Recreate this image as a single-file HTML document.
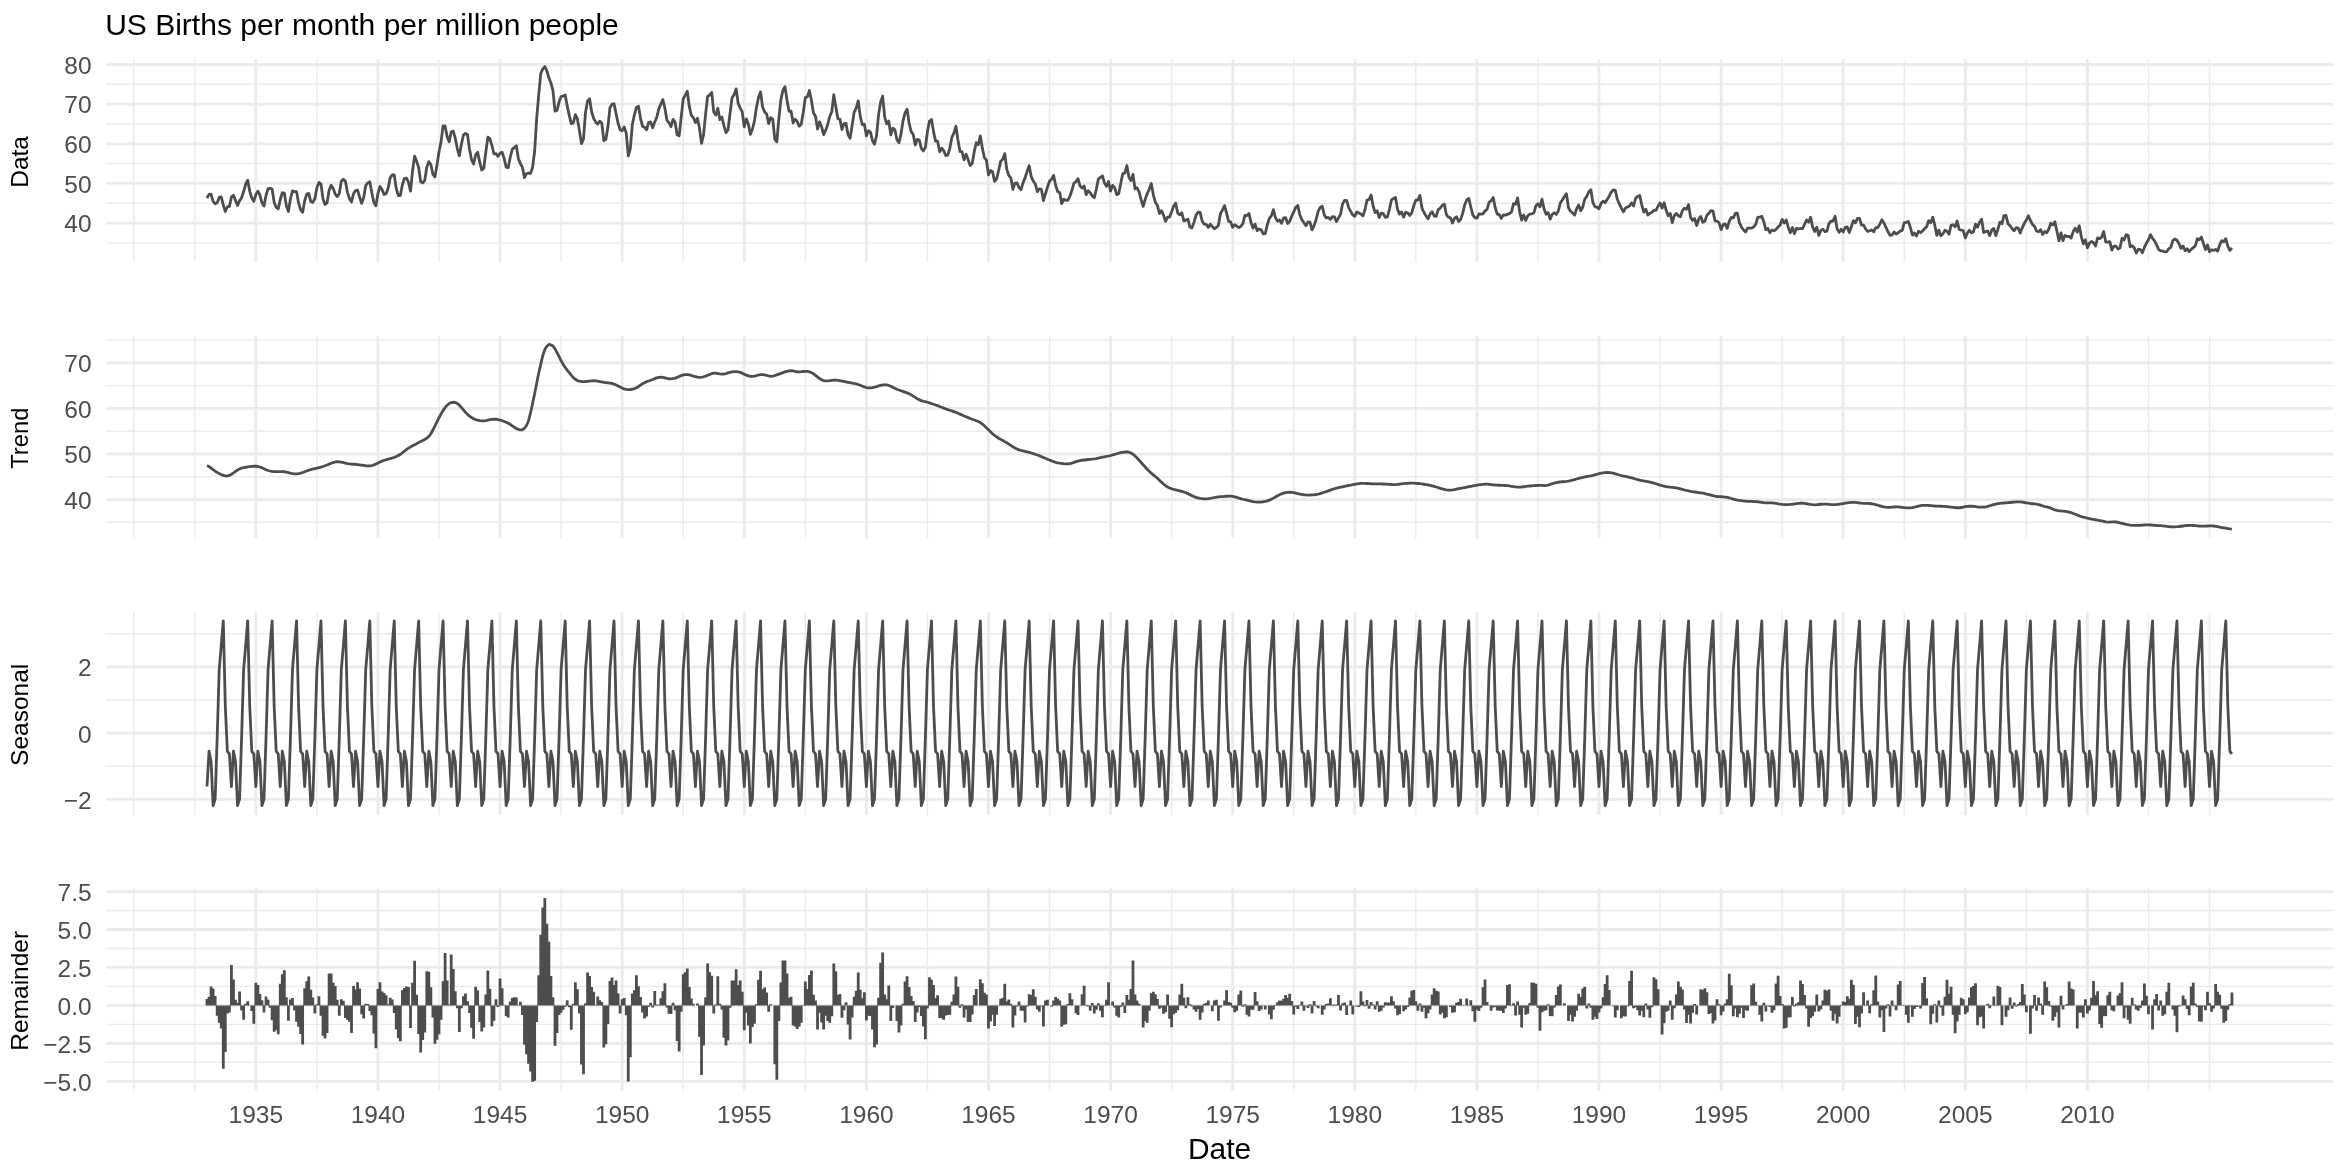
<!DOCTYPE html><html><head><meta charset="utf-8"><title>US Births per month per million people</title>
<style>html,body{margin:0;padding:0;background:#fff}svg{display:block;will-change:transform}text{font-family:"Liberation Sans",Arial,Helvetica,sans-serif}</style></head><body>
<svg width="2344" height="1170" viewBox="0 0 2344 1170">
<rect width="2344" height="1170" fill="#fff"/>
<text x="105.2" y="35.1" font-size="30" fill="#000">US Births per month per million people</text>
<g><path d="M106.2 242.90H2333.2" stroke="#EBEBEB" stroke-width="1.40"/><path d="M106.2 203.26H2333.2" stroke="#EBEBEB" stroke-width="1.40"/><path d="M106.2 163.61H2333.2" stroke="#EBEBEB" stroke-width="1.40"/><path d="M106.2 123.97H2333.2" stroke="#EBEBEB" stroke-width="1.40"/><path d="M106.2 84.32H2333.2" stroke="#EBEBEB" stroke-width="1.40"/><path d="M133.75 59.4V262.1" stroke="#EBEBEB" stroke-width="1.40"/><path d="M194.80 59.4V262.1" stroke="#EBEBEB" stroke-width="1.40"/><path d="M316.90 59.4V262.1" stroke="#EBEBEB" stroke-width="1.40"/><path d="M439.01 59.4V262.1" stroke="#EBEBEB" stroke-width="1.40"/><path d="M561.11 59.4V262.1" stroke="#EBEBEB" stroke-width="1.40"/><path d="M683.22 59.4V262.1" stroke="#EBEBEB" stroke-width="1.40"/><path d="M805.32 59.4V262.1" stroke="#EBEBEB" stroke-width="1.40"/><path d="M927.43 59.4V262.1" stroke="#EBEBEB" stroke-width="1.40"/><path d="M1049.53 59.4V262.1" stroke="#EBEBEB" stroke-width="1.40"/><path d="M1171.64 59.4V262.1" stroke="#EBEBEB" stroke-width="1.40"/><path d="M1293.74 59.4V262.1" stroke="#EBEBEB" stroke-width="1.40"/><path d="M1415.85 59.4V262.1" stroke="#EBEBEB" stroke-width="1.40"/><path d="M1537.95 59.4V262.1" stroke="#EBEBEB" stroke-width="1.40"/><path d="M1660.06 59.4V262.1" stroke="#EBEBEB" stroke-width="1.40"/><path d="M1782.16 59.4V262.1" stroke="#EBEBEB" stroke-width="1.40"/><path d="M1904.27 59.4V262.1" stroke="#EBEBEB" stroke-width="1.40"/><path d="M2026.37 59.4V262.1" stroke="#EBEBEB" stroke-width="1.40"/><path d="M2148.48 59.4V262.1" stroke="#EBEBEB" stroke-width="1.40"/><path d="M2209.53 59.4V262.1" stroke="#EBEBEB" stroke-width="1.40"/><path d="M106.2 223.08H2333.2" stroke="#EBEBEB" stroke-width="2.80"/><path d="M106.2 183.44H2333.2" stroke="#EBEBEB" stroke-width="2.80"/><path d="M106.2 143.79H2333.2" stroke="#EBEBEB" stroke-width="2.80"/><path d="M106.2 104.15H2333.2" stroke="#EBEBEB" stroke-width="2.80"/><path d="M106.2 64.50H2333.2" stroke="#EBEBEB" stroke-width="2.80"/><path d="M255.85 59.4V262.1" stroke="#EBEBEB" stroke-width="2.80"/><path d="M377.95 59.4V262.1" stroke="#EBEBEB" stroke-width="2.80"/><path d="M500.06 59.4V262.1" stroke="#EBEBEB" stroke-width="2.80"/><path d="M622.16 59.4V262.1" stroke="#EBEBEB" stroke-width="2.80"/><path d="M744.27 59.4V262.1" stroke="#EBEBEB" stroke-width="2.80"/><path d="M866.38 59.4V262.1" stroke="#EBEBEB" stroke-width="2.80"/><path d="M988.48 59.4V262.1" stroke="#EBEBEB" stroke-width="2.80"/><path d="M1110.59 59.4V262.1" stroke="#EBEBEB" stroke-width="2.80"/><path d="M1232.69 59.4V262.1" stroke="#EBEBEB" stroke-width="2.80"/><path d="M1354.79 59.4V262.1" stroke="#EBEBEB" stroke-width="2.80"/><path d="M1476.90 59.4V262.1" stroke="#EBEBEB" stroke-width="2.80"/><path d="M1599.00 59.4V262.1" stroke="#EBEBEB" stroke-width="2.80"/><path d="M1721.11 59.4V262.1" stroke="#EBEBEB" stroke-width="2.80"/><path d="M1843.21 59.4V262.1" stroke="#EBEBEB" stroke-width="2.80"/><path d="M1965.32 59.4V262.1" stroke="#EBEBEB" stroke-width="2.80"/><path d="M2087.43 59.4V262.1" stroke="#EBEBEB" stroke-width="2.80"/></g>
<text x="91.6" y="232.4" font-size="24.5" fill="#4D4D4D" text-anchor="end">40</text>
<text x="91.6" y="192.7" font-size="24.5" fill="#4D4D4D" text-anchor="end">50</text>
<text x="91.6" y="153.1" font-size="24.5" fill="#4D4D4D" text-anchor="end">60</text>
<text x="91.6" y="113.4" font-size="24.5" fill="#4D4D4D" text-anchor="end">70</text>
<text x="91.6" y="73.8" font-size="24.5" fill="#4D4D4D" text-anchor="end">80</text>
<text transform="translate(27.6 161.9) rotate(-90)" font-size="24.5" fill="#000" text-anchor="middle">Data</text>
<g><path d="M106.2 522.32H2333.2" stroke="#EBEBEB" stroke-width="1.40"/><path d="M106.2 476.77H2333.2" stroke="#EBEBEB" stroke-width="1.40"/><path d="M106.2 431.22H2333.2" stroke="#EBEBEB" stroke-width="1.40"/><path d="M106.2 385.67H2333.2" stroke="#EBEBEB" stroke-width="1.40"/><path d="M106.2 340.12H2333.2" stroke="#EBEBEB" stroke-width="1.40"/><path d="M133.75 336.1V538.0" stroke="#EBEBEB" stroke-width="1.40"/><path d="M194.80 336.1V538.0" stroke="#EBEBEB" stroke-width="1.40"/><path d="M316.90 336.1V538.0" stroke="#EBEBEB" stroke-width="1.40"/><path d="M439.01 336.1V538.0" stroke="#EBEBEB" stroke-width="1.40"/><path d="M561.11 336.1V538.0" stroke="#EBEBEB" stroke-width="1.40"/><path d="M683.22 336.1V538.0" stroke="#EBEBEB" stroke-width="1.40"/><path d="M805.32 336.1V538.0" stroke="#EBEBEB" stroke-width="1.40"/><path d="M927.43 336.1V538.0" stroke="#EBEBEB" stroke-width="1.40"/><path d="M1049.53 336.1V538.0" stroke="#EBEBEB" stroke-width="1.40"/><path d="M1171.64 336.1V538.0" stroke="#EBEBEB" stroke-width="1.40"/><path d="M1293.74 336.1V538.0" stroke="#EBEBEB" stroke-width="1.40"/><path d="M1415.85 336.1V538.0" stroke="#EBEBEB" stroke-width="1.40"/><path d="M1537.95 336.1V538.0" stroke="#EBEBEB" stroke-width="1.40"/><path d="M1660.06 336.1V538.0" stroke="#EBEBEB" stroke-width="1.40"/><path d="M1782.16 336.1V538.0" stroke="#EBEBEB" stroke-width="1.40"/><path d="M1904.27 336.1V538.0" stroke="#EBEBEB" stroke-width="1.40"/><path d="M2026.37 336.1V538.0" stroke="#EBEBEB" stroke-width="1.40"/><path d="M2148.48 336.1V538.0" stroke="#EBEBEB" stroke-width="1.40"/><path d="M2209.53 336.1V538.0" stroke="#EBEBEB" stroke-width="1.40"/><path d="M106.2 499.55H2333.2" stroke="#EBEBEB" stroke-width="2.80"/><path d="M106.2 454.00H2333.2" stroke="#EBEBEB" stroke-width="2.80"/><path d="M106.2 408.45H2333.2" stroke="#EBEBEB" stroke-width="2.80"/><path d="M106.2 362.90H2333.2" stroke="#EBEBEB" stroke-width="2.80"/><path d="M255.85 336.1V538.0" stroke="#EBEBEB" stroke-width="2.80"/><path d="M377.95 336.1V538.0" stroke="#EBEBEB" stroke-width="2.80"/><path d="M500.06 336.1V538.0" stroke="#EBEBEB" stroke-width="2.80"/><path d="M622.16 336.1V538.0" stroke="#EBEBEB" stroke-width="2.80"/><path d="M744.27 336.1V538.0" stroke="#EBEBEB" stroke-width="2.80"/><path d="M866.38 336.1V538.0" stroke="#EBEBEB" stroke-width="2.80"/><path d="M988.48 336.1V538.0" stroke="#EBEBEB" stroke-width="2.80"/><path d="M1110.59 336.1V538.0" stroke="#EBEBEB" stroke-width="2.80"/><path d="M1232.69 336.1V538.0" stroke="#EBEBEB" stroke-width="2.80"/><path d="M1354.79 336.1V538.0" stroke="#EBEBEB" stroke-width="2.80"/><path d="M1476.90 336.1V538.0" stroke="#EBEBEB" stroke-width="2.80"/><path d="M1599.00 336.1V538.0" stroke="#EBEBEB" stroke-width="2.80"/><path d="M1721.11 336.1V538.0" stroke="#EBEBEB" stroke-width="2.80"/><path d="M1843.21 336.1V538.0" stroke="#EBEBEB" stroke-width="2.80"/><path d="M1965.32 336.1V538.0" stroke="#EBEBEB" stroke-width="2.80"/><path d="M2087.43 336.1V538.0" stroke="#EBEBEB" stroke-width="2.80"/></g>
<text x="91.6" y="508.8" font-size="24.5" fill="#4D4D4D" text-anchor="end">40</text>
<text x="91.6" y="463.3" font-size="24.5" fill="#4D4D4D" text-anchor="end">50</text>
<text x="91.6" y="417.8" font-size="24.5" fill="#4D4D4D" text-anchor="end">60</text>
<text x="91.6" y="372.2" font-size="24.5" fill="#4D4D4D" text-anchor="end">70</text>
<text transform="translate(27.6 438.2) rotate(-90)" font-size="23.8" fill="#000" text-anchor="middle">Trend</text>
<g><path d="M106.2 766.31H2333.2" stroke="#EBEBEB" stroke-width="1.40"/><path d="M106.2 700.03H2333.2" stroke="#EBEBEB" stroke-width="1.40"/><path d="M106.2 633.76H2333.2" stroke="#EBEBEB" stroke-width="1.40"/><path d="M133.75 612.2V815.0" stroke="#EBEBEB" stroke-width="1.40"/><path d="M194.80 612.2V815.0" stroke="#EBEBEB" stroke-width="1.40"/><path d="M316.90 612.2V815.0" stroke="#EBEBEB" stroke-width="1.40"/><path d="M439.01 612.2V815.0" stroke="#EBEBEB" stroke-width="1.40"/><path d="M561.11 612.2V815.0" stroke="#EBEBEB" stroke-width="1.40"/><path d="M683.22 612.2V815.0" stroke="#EBEBEB" stroke-width="1.40"/><path d="M805.32 612.2V815.0" stroke="#EBEBEB" stroke-width="1.40"/><path d="M927.43 612.2V815.0" stroke="#EBEBEB" stroke-width="1.40"/><path d="M1049.53 612.2V815.0" stroke="#EBEBEB" stroke-width="1.40"/><path d="M1171.64 612.2V815.0" stroke="#EBEBEB" stroke-width="1.40"/><path d="M1293.74 612.2V815.0" stroke="#EBEBEB" stroke-width="1.40"/><path d="M1415.85 612.2V815.0" stroke="#EBEBEB" stroke-width="1.40"/><path d="M1537.95 612.2V815.0" stroke="#EBEBEB" stroke-width="1.40"/><path d="M1660.06 612.2V815.0" stroke="#EBEBEB" stroke-width="1.40"/><path d="M1782.16 612.2V815.0" stroke="#EBEBEB" stroke-width="1.40"/><path d="M1904.27 612.2V815.0" stroke="#EBEBEB" stroke-width="1.40"/><path d="M2026.37 612.2V815.0" stroke="#EBEBEB" stroke-width="1.40"/><path d="M2148.48 612.2V815.0" stroke="#EBEBEB" stroke-width="1.40"/><path d="M2209.53 612.2V815.0" stroke="#EBEBEB" stroke-width="1.40"/><path d="M106.2 799.44H2333.2" stroke="#EBEBEB" stroke-width="2.80"/><path d="M106.2 733.17H2333.2" stroke="#EBEBEB" stroke-width="2.80"/><path d="M106.2 666.90H2333.2" stroke="#EBEBEB" stroke-width="2.80"/><path d="M255.85 612.2V815.0" stroke="#EBEBEB" stroke-width="2.80"/><path d="M377.95 612.2V815.0" stroke="#EBEBEB" stroke-width="2.80"/><path d="M500.06 612.2V815.0" stroke="#EBEBEB" stroke-width="2.80"/><path d="M622.16 612.2V815.0" stroke="#EBEBEB" stroke-width="2.80"/><path d="M744.27 612.2V815.0" stroke="#EBEBEB" stroke-width="2.80"/><path d="M866.38 612.2V815.0" stroke="#EBEBEB" stroke-width="2.80"/><path d="M988.48 612.2V815.0" stroke="#EBEBEB" stroke-width="2.80"/><path d="M1110.59 612.2V815.0" stroke="#EBEBEB" stroke-width="2.80"/><path d="M1232.69 612.2V815.0" stroke="#EBEBEB" stroke-width="2.80"/><path d="M1354.79 612.2V815.0" stroke="#EBEBEB" stroke-width="2.80"/><path d="M1476.90 612.2V815.0" stroke="#EBEBEB" stroke-width="2.80"/><path d="M1599.00 612.2V815.0" stroke="#EBEBEB" stroke-width="2.80"/><path d="M1721.11 612.2V815.0" stroke="#EBEBEB" stroke-width="2.80"/><path d="M1843.21 612.2V815.0" stroke="#EBEBEB" stroke-width="2.80"/><path d="M1965.32 612.2V815.0" stroke="#EBEBEB" stroke-width="2.80"/><path d="M2087.43 612.2V815.0" stroke="#EBEBEB" stroke-width="2.80"/></g>
<text x="91.6" y="808.7" font-size="24.5" fill="#4D4D4D" text-anchor="end">−2</text>
<text x="91.6" y="742.5" font-size="24.5" fill="#4D4D4D" text-anchor="end">0</text>
<text x="91.6" y="676.2" font-size="24.5" fill="#4D4D4D" text-anchor="end">2</text>
<text transform="translate(27.6 714.8) rotate(-90)" font-size="24.5" fill="#000" text-anchor="middle">Seasonal</text>
<g><path d="M106.2 1062.32H2333.2" stroke="#EBEBEB" stroke-width="1.40"/><path d="M106.2 1024.37H2333.2" stroke="#EBEBEB" stroke-width="1.40"/><path d="M106.2 986.41H2333.2" stroke="#EBEBEB" stroke-width="1.40"/><path d="M106.2 948.47H2333.2" stroke="#EBEBEB" stroke-width="1.40"/><path d="M106.2 910.51H2333.2" stroke="#EBEBEB" stroke-width="1.40"/><path d="M133.75 888.4V1090.8" stroke="#EBEBEB" stroke-width="1.40"/><path d="M194.80 888.4V1090.8" stroke="#EBEBEB" stroke-width="1.40"/><path d="M316.90 888.4V1090.8" stroke="#EBEBEB" stroke-width="1.40"/><path d="M439.01 888.4V1090.8" stroke="#EBEBEB" stroke-width="1.40"/><path d="M561.11 888.4V1090.8" stroke="#EBEBEB" stroke-width="1.40"/><path d="M683.22 888.4V1090.8" stroke="#EBEBEB" stroke-width="1.40"/><path d="M805.32 888.4V1090.8" stroke="#EBEBEB" stroke-width="1.40"/><path d="M927.43 888.4V1090.8" stroke="#EBEBEB" stroke-width="1.40"/><path d="M1049.53 888.4V1090.8" stroke="#EBEBEB" stroke-width="1.40"/><path d="M1171.64 888.4V1090.8" stroke="#EBEBEB" stroke-width="1.40"/><path d="M1293.74 888.4V1090.8" stroke="#EBEBEB" stroke-width="1.40"/><path d="M1415.85 888.4V1090.8" stroke="#EBEBEB" stroke-width="1.40"/><path d="M1537.95 888.4V1090.8" stroke="#EBEBEB" stroke-width="1.40"/><path d="M1660.06 888.4V1090.8" stroke="#EBEBEB" stroke-width="1.40"/><path d="M1782.16 888.4V1090.8" stroke="#EBEBEB" stroke-width="1.40"/><path d="M1904.27 888.4V1090.8" stroke="#EBEBEB" stroke-width="1.40"/><path d="M2026.37 888.4V1090.8" stroke="#EBEBEB" stroke-width="1.40"/><path d="M2148.48 888.4V1090.8" stroke="#EBEBEB" stroke-width="1.40"/><path d="M2209.53 888.4V1090.8" stroke="#EBEBEB" stroke-width="1.40"/><path d="M106.2 1081.29H2333.2" stroke="#EBEBEB" stroke-width="2.80"/><path d="M106.2 1043.34H2333.2" stroke="#EBEBEB" stroke-width="2.80"/><path d="M106.2 1005.39H2333.2" stroke="#EBEBEB" stroke-width="2.80"/><path d="M106.2 967.44H2333.2" stroke="#EBEBEB" stroke-width="2.80"/><path d="M106.2 929.49H2333.2" stroke="#EBEBEB" stroke-width="2.80"/><path d="M106.2 891.54H2333.2" stroke="#EBEBEB" stroke-width="2.80"/><path d="M255.85 888.4V1090.8" stroke="#EBEBEB" stroke-width="2.80"/><path d="M377.95 888.4V1090.8" stroke="#EBEBEB" stroke-width="2.80"/><path d="M500.06 888.4V1090.8" stroke="#EBEBEB" stroke-width="2.80"/><path d="M622.16 888.4V1090.8" stroke="#EBEBEB" stroke-width="2.80"/><path d="M744.27 888.4V1090.8" stroke="#EBEBEB" stroke-width="2.80"/><path d="M866.38 888.4V1090.8" stroke="#EBEBEB" stroke-width="2.80"/><path d="M988.48 888.4V1090.8" stroke="#EBEBEB" stroke-width="2.80"/><path d="M1110.59 888.4V1090.8" stroke="#EBEBEB" stroke-width="2.80"/><path d="M1232.69 888.4V1090.8" stroke="#EBEBEB" stroke-width="2.80"/><path d="M1354.79 888.4V1090.8" stroke="#EBEBEB" stroke-width="2.80"/><path d="M1476.90 888.4V1090.8" stroke="#EBEBEB" stroke-width="2.80"/><path d="M1599.00 888.4V1090.8" stroke="#EBEBEB" stroke-width="2.80"/><path d="M1721.11 888.4V1090.8" stroke="#EBEBEB" stroke-width="2.80"/><path d="M1843.21 888.4V1090.8" stroke="#EBEBEB" stroke-width="2.80"/><path d="M1965.32 888.4V1090.8" stroke="#EBEBEB" stroke-width="2.80"/><path d="M2087.43 888.4V1090.8" stroke="#EBEBEB" stroke-width="2.80"/></g>
<text x="91.6" y="1090.6" font-size="24.5" fill="#4D4D4D" text-anchor="end">−5.0</text>
<text x="91.6" y="1052.6" font-size="24.5" fill="#4D4D4D" text-anchor="end">−2.5</text>
<text x="91.6" y="1014.7" font-size="24.5" fill="#4D4D4D" text-anchor="end">0.0</text>
<text x="91.6" y="976.7" font-size="24.5" fill="#4D4D4D" text-anchor="end">2.5</text>
<text x="91.6" y="938.8" font-size="24.5" fill="#4D4D4D" text-anchor="end">5.0</text>
<text x="91.6" y="900.8" font-size="24.5" fill="#4D4D4D" text-anchor="end">7.5</text>
<text transform="translate(27.6 990.8) rotate(-90)" font-size="24.5" fill="#000" text-anchor="middle">Remainder</text>
<text x="255.8" y="1123.4" font-size="24.5" fill="#4D4D4D" text-anchor="middle">1935</text>
<text x="378.0" y="1123.4" font-size="24.5" fill="#4D4D4D" text-anchor="middle">1940</text>
<text x="500.1" y="1123.4" font-size="24.5" fill="#4D4D4D" text-anchor="middle">1945</text>
<text x="622.2" y="1123.4" font-size="24.5" fill="#4D4D4D" text-anchor="middle">1950</text>
<text x="744.3" y="1123.4" font-size="24.5" fill="#4D4D4D" text-anchor="middle">1955</text>
<text x="866.4" y="1123.4" font-size="24.5" fill="#4D4D4D" text-anchor="middle">1960</text>
<text x="988.5" y="1123.4" font-size="24.5" fill="#4D4D4D" text-anchor="middle">1965</text>
<text x="1110.6" y="1123.4" font-size="24.5" fill="#4D4D4D" text-anchor="middle">1970</text>
<text x="1232.7" y="1123.4" font-size="24.5" fill="#4D4D4D" text-anchor="middle">1975</text>
<text x="1354.8" y="1123.4" font-size="24.5" fill="#4D4D4D" text-anchor="middle">1980</text>
<text x="1476.9" y="1123.4" font-size="24.5" fill="#4D4D4D" text-anchor="middle">1985</text>
<text x="1599.0" y="1123.4" font-size="24.5" fill="#4D4D4D" text-anchor="middle">1990</text>
<text x="1721.1" y="1123.4" font-size="24.5" fill="#4D4D4D" text-anchor="middle">1995</text>
<text x="1843.2" y="1123.4" font-size="24.5" fill="#4D4D4D" text-anchor="middle">2000</text>
<text x="1965.3" y="1123.4" font-size="24.5" fill="#4D4D4D" text-anchor="middle">2005</text>
<text x="2087.4" y="1123.4" font-size="24.5" fill="#4D4D4D" text-anchor="middle">2010</text>
<text x="1219.5" y="1159" font-size="29.9" fill="#000" text-anchor="middle">Date</text>
<path d="M207.01 198.07L209.04 194.31L211.08 194.26L213.11 201.38L215.15 203.78L217.18 202.71L219.22 197.45L221.25 196.88L223.29 205.17L225.32 211.51L227.36 206.89L229.39 206.43L231.43 196.95L233.46 195.29L235.50 200.50L237.53 205.37L239.57 200.70L241.60 197.66L243.64 191.51L245.67 184.15L247.71 180.24L249.74 191.35L251.78 197.88L253.81 201.34L255.85 194.55L257.89 191.10L259.92 195.23L261.96 202.83L263.99 206.09L266.03 195.31L268.06 188.71L270.10 188.34L272.13 188.98L274.17 202.41L276.20 207.38L278.24 208.83L280.27 199.51L282.31 192.78L284.34 193.15L286.38 205.70L288.41 211.47L290.45 199.03L292.48 190.90L294.52 191.55L296.55 191.64L298.59 202.95L300.62 209.75L302.66 212.26L304.69 200.82L306.73 194.09L308.76 193.45L310.80 201.61L312.83 202.31L314.87 198.79L316.90 187.82L318.94 182.44L320.97 184.14L323.01 199.05L325.04 204.48L327.08 202.68L329.11 190.31L331.15 185.35L333.18 188.39L335.22 194.03L337.25 196.57L339.29 193.45L341.32 181.32L343.36 179.25L345.39 181.22L347.43 192.32L349.46 198.49L351.50 201.93L353.53 193.73L355.57 190.52L357.60 190.07L359.64 197.15L361.67 203.31L363.71 197.37L365.74 185.59L367.78 182.95L369.81 181.83L371.85 192.83L373.88 202.46L375.92 205.83L377.95 193.40L379.99 186.50L382.03 189.43L384.06 194.44L386.10 193.67L388.13 188.24L390.17 177.86L392.20 174.90L394.24 174.92L396.27 188.76L398.31 195.52L400.34 195.52L402.38 184.79L404.41 178.53L406.45 178.00L408.48 182.20L410.52 191.07L412.55 170.96L414.59 156.13L416.62 161.19L418.66 167.57L420.69 181.69L422.73 182.89L424.76 180.31L426.80 167.17L428.83 161.59L430.87 164.44L432.90 174.42L434.94 176.91L436.97 164.91L439.01 151.77L441.04 141.87L443.08 125.94L445.11 126.22L447.15 136.63L449.18 141.71L451.22 131.75L453.25 131.05L455.29 138.29L457.32 148.84L459.36 155.76L461.39 144.22L463.43 135.02L465.46 133.46L467.50 134.44L469.53 149.27L471.57 159.77L473.60 163.92L475.64 154.96L477.67 152.26L479.71 162.17L481.74 170.07L483.78 168.23L485.81 152.01L487.85 137.25L489.88 138.72L491.92 145.31L493.95 153.92L495.99 153.74L498.02 156.32L500.06 153.21L502.10 152.14L504.13 158.44L506.17 167.24L508.20 167.67L510.24 157.23L512.27 149.34L514.31 147.51L516.34 145.71L518.38 158.73L520.41 163.64L522.45 167.30L524.48 177.69L526.52 173.53L528.55 173.09L530.59 173.41L532.62 167.21L534.66 151.02L536.69 118.65L538.73 94.50L540.76 73.56L542.80 68.90L544.83 66.58L546.87 70.79L548.90 77.79L550.94 82.94L552.97 90.64L555.01 111.22L557.04 110.32L559.08 101.82L561.11 96.61L563.15 96.06L565.18 95.01L567.22 105.89L569.25 115.39L571.29 123.70L573.32 122.93L575.36 114.56L577.39 118.72L579.43 130.87L581.46 143.63L583.50 138.91L585.53 112.13L587.57 101.04L589.60 98.84L591.64 111.74L593.67 118.33L595.71 122.16L597.74 124.04L599.78 121.16L601.81 123.26L603.85 140.69L605.88 139.25L607.92 126.84L609.95 107.73L611.99 104.23L614.02 103.78L616.06 113.62L618.09 123.25L620.13 129.73L622.16 130.83L624.20 126.97L626.24 133.14L628.27 155.87L630.31 148.73L632.34 124.55L634.38 115.06L636.41 107.43L638.45 106.26L640.48 118.09L642.52 126.35L644.55 127.23L646.59 129.80L648.62 122.37L650.66 122.00L652.69 127.81L654.73 121.95L656.76 117.41L658.80 108.90L660.83 104.17L662.87 99.64L664.90 108.20L666.94 120.35L668.97 122.61L671.01 126.70L673.04 119.33L675.08 122.06L677.11 134.68L679.15 135.89L681.18 117.40L683.22 98.89L685.25 95.13L687.29 91.24L689.32 106.59L691.36 115.46L693.39 117.67L695.43 122.58L697.46 118.19L699.50 128.32L701.53 143.43L703.57 134.59L705.60 114.08L707.64 96.39L709.67 95.03L711.71 92.37L713.74 112.04L715.78 115.03L717.81 108.25L719.85 119.65L721.88 117.09L723.92 125.70L725.95 132.59L727.99 129.98L730.02 113.52L732.06 97.81L734.09 94.68L736.13 88.83L738.16 103.39L740.20 108.08L742.23 111.97L744.27 126.85L746.31 118.86L748.34 124.12L750.38 134.39L752.41 129.35L754.45 120.89L756.48 107.25L758.52 97.51L760.55 91.83L762.59 106.91L764.62 112.11L766.66 114.12L768.69 123.60L770.73 117.65L772.76 119.08L774.80 139.20L776.83 141.84L778.87 118.45L780.90 99.61L782.94 90.32L784.97 86.80L787.01 99.94L789.04 111.25L791.08 111.16L793.11 122.80L795.15 119.22L797.18 121.41L799.22 126.11L801.25 124.20L803.29 112.31L805.32 97.64L807.36 96.84L809.39 90.55L811.43 100.30L813.46 113.04L815.50 116.17L817.53 129.09L819.57 121.82L821.60 126.72L823.64 134.55L825.67 130.47L827.71 124.43L829.74 116.51L831.78 111.69L833.81 94.78L835.85 107.01L837.88 118.76L839.92 119.11L841.95 129.58L843.99 123.70L846.02 123.25L848.06 134.69L850.09 138.19L852.13 125.46L854.16 112.21L856.20 108.10L858.23 100.94L860.27 116.39L862.30 124.71L864.34 124.08L866.38 135.87L868.41 130.75L870.45 132.14L872.48 140.74L874.52 144.16L876.55 135.52L878.59 114.62L880.62 102.05L882.66 96.10L884.69 117.18L886.73 123.94L888.76 121.04L890.80 134.90L892.83 128.20L894.87 129.68L896.90 139.81L898.94 142.67L900.97 134.14L903.01 120.88L905.04 112.84L907.08 109.20L909.11 123.04L911.15 131.67L913.18 134.34L915.22 144.96L917.25 139.33L919.29 140.15L921.32 148.45L923.36 150.92L925.39 147.34L927.43 131.64L929.46 121.13L931.50 119.47L933.53 131.64L935.57 141.08L937.60 141.19L939.64 151.73L941.67 148.29L943.71 150.64L945.74 155.52L947.78 155.19L949.81 148.35L951.85 137.38L953.88 133.22L955.92 126.29L957.95 139.92L959.99 151.55L962.02 151.72L964.06 159.89L966.09 154.28L968.13 159.60L970.16 165.51L972.20 163.49L974.23 151.68L976.27 142.64L978.30 144.72L980.34 135.87L982.37 148.35L984.41 157.74L986.44 160.24L988.48 174.84L990.52 170.50L992.55 171.67L994.59 181.35L996.62 178.91L998.66 170.34L1000.69 161.42L1002.73 159.23L1004.76 153.60L1006.80 169.41L1008.83 175.44L1010.87 178.00L1012.90 189.35L1014.94 183.07L1016.97 182.90L1019.01 187.58L1021.04 189.68L1023.08 182.63L1025.11 177.93L1027.15 171.33L1029.18 165.68L1031.22 176.62L1033.25 181.05L1035.29 183.89L1037.32 191.73L1039.36 188.82L1041.39 189.35L1043.43 200.63L1045.46 193.77L1047.50 187.05L1049.53 181.13L1051.57 179.23L1053.60 175.36L1055.64 185.31L1057.67 191.48L1059.71 192.59L1061.74 203.68L1063.78 199.13L1065.81 200.33L1067.85 200.27L1069.88 196.43L1071.92 190.27L1073.95 183.17L1075.99 181.67L1078.02 178.64L1080.06 186.06L1082.09 188.13L1084.13 185.98L1086.16 194.71L1088.20 190.68L1090.23 192.82L1092.27 195.91L1094.30 197.70L1096.34 189.12L1098.37 178.90L1100.41 177.51L1102.44 175.91L1104.48 182.84L1106.51 186.27L1108.55 181.57L1110.59 191.12L1112.62 185.37L1114.66 187.71L1116.69 194.59L1118.73 193.80L1120.76 183.25L1122.80 173.55L1124.83 173.15L1126.87 165.53L1128.90 177.28L1130.94 180.47L1132.97 174.40L1135.01 188.77L1137.04 187.82L1139.08 191.84L1141.11 199.54L1143.15 206.48L1145.18 199.38L1147.22 193.53L1149.25 189.33L1151.29 183.52L1153.32 194.86L1155.36 202.33L1157.39 205.41L1159.43 213.53L1161.46 210.66L1163.50 215.13L1165.53 221.42L1167.57 217.18L1169.60 216.99L1171.64 211.78L1173.67 205.99L1175.71 203.12L1177.74 213.12L1179.78 214.83L1181.81 212.79L1183.85 220.93L1185.88 220.12L1187.92 219.26L1189.95 227.18L1191.99 227.85L1194.02 222.12L1196.06 215.23L1198.09 212.12L1200.13 212.37L1202.16 220.96L1204.20 224.18L1206.23 224.30L1208.27 227.40L1210.30 224.25L1212.34 226.64L1214.37 228.76L1216.41 227.43L1218.44 225.25L1220.48 213.51L1222.51 209.91L1224.55 205.62L1226.58 213.11L1228.62 221.39L1230.65 221.92L1232.69 227.35L1234.73 224.67L1236.76 226.05L1238.80 227.65L1240.83 226.33L1242.87 223.73L1244.90 215.33L1246.94 215.55L1248.97 213.52L1251.01 222.43L1253.04 228.18L1255.08 224.12L1257.11 230.62L1259.15 228.96L1261.18 229.76L1263.22 233.76L1265.25 233.59L1267.29 224.77L1269.32 218.38L1271.36 215.94L1273.39 209.57L1275.43 217.54L1277.46 221.17L1279.50 220.06L1281.53 223.25L1283.57 217.89L1285.60 217.69L1287.64 223.47L1289.67 221.55L1291.71 216.18L1293.74 211.85L1295.78 207.32L1297.81 205.41L1299.85 215.00L1301.88 219.77L1303.92 222.75L1305.95 225.70L1307.99 222.00L1310.02 222.24L1312.06 229.87L1314.09 225.65L1316.13 219.46L1318.16 211.49L1320.20 207.38L1322.23 206.33L1324.27 214.66L1326.30 217.92L1328.34 217.46L1330.37 219.40L1332.41 216.56L1334.44 216.86L1336.48 221.61L1338.51 217.88L1340.55 214.17L1342.58 203.83L1344.62 200.32L1346.65 200.34L1348.69 207.68L1350.72 211.40L1352.76 214.95L1354.79 216.29L1356.83 211.95L1358.87 213.08L1360.90 214.05L1362.94 215.87L1364.97 209.80L1367.01 200.12L1369.04 199.62L1371.08 194.98L1373.11 205.95L1375.15 212.69L1377.18 210.82L1379.22 217.48L1381.25 213.07L1383.29 213.52L1385.32 217.48L1387.36 216.92L1389.39 209.64L1391.43 200.00L1393.46 198.45L1395.50 197.42L1397.53 209.28L1399.57 214.10L1401.60 212.05L1403.64 217.16L1405.67 212.29L1407.71 212.79L1409.74 215.47L1411.78 212.85L1413.81 205.41L1415.85 200.26L1417.88 200.05L1419.92 195.38L1421.95 207.98L1423.99 212.55L1426.02 215.87L1428.06 218.76L1430.09 213.92L1432.13 211.73L1434.16 215.85L1436.20 216.26L1438.23 209.62L1440.27 208.06L1442.30 205.22L1444.34 204.22L1446.37 214.55L1448.41 217.06L1450.44 217.80L1452.48 223.04L1454.51 218.36L1456.55 216.75L1458.58 221.48L1460.62 219.42L1462.65 213.38L1464.69 204.94L1466.72 199.96L1468.76 198.42L1470.79 206.99L1472.83 214.87L1474.86 217.60L1476.90 218.11L1478.94 213.89L1480.97 214.08L1483.01 213.80L1485.04 210.88L1487.08 209.35L1489.11 202.16L1491.15 200.88L1493.18 197.37L1495.22 207.68L1497.25 214.05L1499.29 214.53L1501.32 218.43L1503.36 214.84L1505.39 215.09L1507.43 214.36L1509.46 213.59L1511.50 211.96L1513.53 203.65L1515.57 204.25L1517.60 197.87L1519.64 211.56L1521.67 220.13L1523.71 215.03L1525.74 220.52L1527.78 215.80L1529.81 214.05L1531.85 213.79L1533.88 212.95L1535.92 205.75L1537.95 203.79L1539.99 206.86L1542.02 199.17L1544.06 209.09L1546.09 214.26L1548.13 212.68L1550.16 219.08L1552.20 214.31L1554.23 212.77L1556.27 214.30L1558.30 210.99L1560.34 202.86L1562.37 200.02L1564.41 196.36L1566.44 193.82L1568.48 207.82L1570.51 211.25L1572.55 212.87L1574.58 215.10L1576.62 208.74L1578.65 205.07L1580.69 210.72L1582.72 207.26L1584.76 199.05L1586.79 196.30L1588.83 191.79L1590.86 189.68L1592.90 202.63L1594.93 206.75L1596.97 207.12L1599.00 208.83L1601.04 203.17L1603.08 201.16L1605.11 202.70L1607.15 199.52L1609.18 196.10L1611.22 192.20L1613.25 189.91L1615.29 190.42L1617.32 199.25L1619.36 203.94L1621.39 208.04L1623.43 211.82L1625.46 208.04L1627.50 207.01L1629.53 206.09L1631.57 203.01L1633.60 206.00L1635.64 198.10L1637.67 196.45L1639.71 195.41L1641.74 204.76L1643.78 212.17L1645.81 209.14L1647.85 214.96L1649.88 213.25L1651.92 212.21L1653.95 210.12L1655.99 210.43L1658.02 206.26L1660.06 202.86L1662.09 208.14L1664.13 202.71L1666.16 210.31L1668.20 215.66L1670.23 213.45L1672.27 222.60L1674.30 215.54L1676.34 213.46L1678.37 215.69L1680.41 216.79L1682.44 210.66L1684.48 208.18L1686.51 209.29L1688.55 204.63L1690.58 217.50L1692.62 220.34L1694.65 218.60L1696.69 225.50L1698.72 219.14L1700.76 216.43L1702.79 222.20L1704.83 221.29L1706.86 215.37L1708.90 213.37L1710.93 210.71L1712.97 211.03L1715.00 220.89L1717.04 221.06L1719.07 222.79L1721.11 229.62L1723.15 224.46L1725.18 223.81L1727.22 228.32L1729.25 221.27L1731.29 217.41L1733.32 217.87L1735.36 213.44L1737.39 213.21L1739.43 222.85L1741.46 226.91L1743.50 230.08L1745.53 232.09L1747.57 228.11L1749.60 228.18L1751.64 228.17L1753.67 226.94L1755.71 224.40L1757.74 217.45L1759.78 217.19L1761.81 216.31L1763.85 221.92L1765.88 229.74L1767.92 228.54L1769.95 232.75L1771.99 230.00L1774.02 230.76L1776.06 229.36L1778.09 226.93L1780.13 225.17L1782.16 219.34L1784.20 223.01L1786.23 219.93L1788.27 227.46L1790.30 232.63L1792.34 227.45L1794.37 233.62L1796.41 228.35L1798.44 229.00L1800.48 228.48L1802.51 228.60L1804.55 224.28L1806.58 219.96L1808.62 222.15L1810.65 217.21L1812.69 227.22L1814.72 231.51L1816.76 227.20L1818.79 235.35L1820.83 230.44L1822.86 229.16L1824.90 231.65L1826.93 231.18L1828.97 223.71L1831.00 221.20L1833.04 221.01L1835.07 216.23L1837.11 228.90L1839.14 232.31L1841.18 229.25L1843.21 231.90L1845.25 227.47L1847.29 226.96L1849.32 232.65L1851.36 226.75L1853.39 220.63L1855.43 222.86L1857.46 218.31L1859.50 218.39L1861.53 225.20L1863.57 225.08L1865.60 228.95L1867.64 231.50L1869.67 230.71L1871.71 229.88L1873.74 231.85L1875.78 227.61L1877.81 227.57L1879.85 224.11L1881.88 219.75L1883.92 222.96L1885.95 227.42L1887.99 231.81L1890.02 235.28L1892.06 234.87L1894.09 231.97L1896.13 234.12L1898.16 232.73L1900.20 231.18L1902.23 230.41L1904.27 222.71L1906.30 222.27L1908.34 221.46L1910.37 227.39L1912.41 235.17L1914.44 233.10L1916.48 236.05L1918.51 231.26L1920.55 232.70L1922.58 231.02L1924.62 228.60L1926.65 226.80L1928.69 220.63L1930.72 222.77L1932.76 217.30L1934.79 225.20L1936.83 235.42L1938.86 230.08L1940.90 235.87L1942.93 233.84L1944.97 230.26L1947.00 231.19L1949.04 234.25L1951.07 225.29L1953.11 224.69L1955.14 226.85L1957.18 220.99L1959.21 229.48L1961.25 230.21L1963.28 230.57L1965.32 238.00L1967.36 232.95L1969.39 230.25L1971.43 232.84L1973.46 231.91L1975.50 224.08L1977.53 227.10L1979.57 222.30L1981.60 219.21L1983.64 232.49L1985.67 231.62L1987.71 230.99L1989.74 235.65L1991.78 229.99L1993.81 228.50L1995.85 235.55L1997.88 229.39L1999.92 222.13L2001.95 223.76L2003.99 215.65L2006.02 215.48L2008.06 223.86L2010.09 225.76L2012.13 228.79L2014.16 230.85L2016.20 227.55L2018.23 228.11L2020.27 232.94L2022.30 227.67L2024.34 223.35L2026.37 220.11L2028.41 215.77L2030.44 220.48L2032.48 224.38L2034.51 226.36L2036.55 230.96L2038.58 231.77L2040.62 229.61L2042.65 234.46L2044.69 231.57L2046.72 232.67L2048.76 229.27L2050.79 223.24L2052.83 224.87L2054.86 221.64L2056.90 231.16L2058.93 240.82L2060.97 232.97L2063.00 240.61L2065.04 235.34L2067.07 236.63L2069.11 236.42L2071.14 238.03L2073.18 231.57L2075.21 228.27L2077.25 232.14L2079.28 225.77L2081.32 236.63L2083.35 243.80L2085.39 239.79L2087.43 247.81L2089.46 243.16L2091.50 241.50L2093.53 242.70L2095.57 245.99L2097.60 237.87L2099.64 238.60L2101.67 237.08L2103.71 231.53L2105.74 242.05L2107.78 242.21L2109.81 241.61L2111.85 250.16L2113.88 246.13L2115.92 246.11L2117.95 249.02L2119.99 248.06L2122.02 238.25L2124.06 239.99L2126.09 234.70L2128.13 235.28L2130.16 246.88L2132.20 245.67L2134.23 247.77L2136.27 253.05L2138.30 249.15L2140.34 249.51L2142.37 252.77L2144.41 247.39L2146.44 243.17L2148.48 239.83L2150.51 234.75L2152.55 238.27L2154.58 240.78L2156.62 244.87L2158.65 249.54L2160.69 250.93L2162.72 250.88L2164.76 251.96L2166.79 251.56L2168.83 248.62L2170.86 247.34L2172.90 240.31L2174.93 239.00L2176.97 240.27L2179.00 243.66L2181.04 248.40L2183.07 245.99L2185.11 250.67L2187.14 248.80L2189.18 251.58L2191.21 249.34L2193.25 247.65L2195.28 245.84L2197.32 238.79L2199.35 239.79L2201.39 237.03L2203.42 243.34L2205.46 249.60L2207.49 244.99L2209.53 251.84L2211.57 249.77L2213.60 250.35L2215.64 249.47L2217.67 251.05L2219.71 244.85L2221.74 240.70L2223.78 241.75L2225.81 238.63L2227.85 246.26L2229.88 250.39L2231.92 247.90" fill="none" stroke="#4D4D4D" stroke-width="2.80" stroke-linejoin="round" stroke-linecap="butt"/>
<path d="M207.01 465.38L209.04 466.63L211.08 468.20L213.11 469.72L215.15 471.15L217.18 472.45L219.22 473.61L221.25 474.58L223.29 475.38L225.32 475.91L227.36 475.98L229.39 475.43L231.43 474.34L233.46 472.89L235.50 471.36L237.53 470.00L239.57 468.92L241.60 468.19L243.64 467.72L245.67 467.34L247.71 466.98L249.74 466.66L251.78 466.40L253.81 466.25L255.85 466.26L257.89 466.49L259.92 467.01L261.96 467.84L263.99 468.81L266.03 469.73L268.06 470.49L270.10 471.01L272.13 471.33L274.17 471.52L276.20 471.62L278.24 471.66L280.27 471.65L282.31 471.65L284.34 471.76L286.38 472.06L288.41 472.53L290.45 473.06L292.48 473.53L294.52 473.85L296.55 473.92L298.59 473.67L300.62 473.18L302.66 472.52L304.69 471.77L306.73 471.00L308.76 470.25L310.80 469.58L312.83 469.02L314.87 468.56L316.90 468.14L318.94 467.68L320.97 467.15L323.01 466.51L325.04 465.77L327.08 464.96L329.11 464.10L331.15 463.26L333.18 462.53L335.22 461.98L337.25 461.72L339.29 461.81L341.32 462.16L343.36 462.63L345.39 463.13L347.43 463.56L349.46 463.87L351.50 464.10L353.53 464.27L355.57 464.43L357.60 464.61L359.64 464.85L361.67 465.15L363.71 465.46L365.74 465.75L367.78 465.93L369.81 465.88L371.85 465.52L373.88 464.89L375.92 464.02L377.95 463.03L379.99 462.03L382.03 461.11L384.06 460.36L386.10 459.77L388.13 459.22L390.17 458.64L392.20 458.01L394.24 457.33L396.27 456.54L398.31 455.54L400.34 454.27L402.38 452.77L404.41 451.11L406.45 449.52L408.48 448.14L410.52 446.93L412.55 445.82L414.59 444.75L416.62 443.67L418.66 442.57L420.69 441.50L422.73 440.47L424.76 439.41L426.80 438.19L428.83 436.49L430.87 433.72L432.90 430.01L434.94 425.94L436.97 421.78L439.01 417.73L441.04 413.98L443.08 410.59L445.11 407.61L447.15 405.20L449.18 403.50L451.22 402.57L453.25 402.26L455.29 402.41L457.32 403.39L459.36 405.18L461.39 407.45L463.43 409.88L465.46 412.24L467.50 414.36L469.53 416.14L471.57 417.58L473.60 418.71L475.64 419.58L477.67 420.22L479.71 420.66L481.74 420.86L483.78 420.83L485.81 420.57L487.85 420.15L489.88 419.70L491.92 419.35L493.95 419.18L495.99 419.23L498.02 419.52L500.06 420.03L502.10 420.70L504.13 421.45L506.17 422.23L508.20 423.18L510.24 424.41L512.27 425.82L514.31 427.24L516.34 428.48L518.38 429.36L520.41 429.83L522.45 429.74L524.48 428.25L526.52 425.51L528.55 420.68L530.59 412.70L532.62 403.42L534.66 393.56L536.69 383.34L538.73 372.96L540.76 364.42L542.80 355.44L544.83 349.46L546.87 346.26L548.90 344.42L550.94 344.89L552.97 345.91L555.01 348.95L557.04 352.66L559.08 356.73L561.11 360.79L563.15 364.33L565.18 367.41L567.22 370.10L569.25 372.75L571.29 375.19L573.32 377.67L575.36 379.32L577.39 380.55L579.43 381.21L581.46 381.49L583.50 381.57L585.53 381.49L587.57 381.31L589.60 381.06L591.64 380.81L593.67 380.76L595.71 380.85L597.74 381.12L599.78 381.51L601.81 381.92L603.85 382.25L605.88 382.52L607.92 382.77L609.95 383.06L611.99 383.46L614.02 384.06L616.06 384.92L618.09 385.95L620.13 387.04L622.16 388.07L624.20 388.86L626.24 389.34L628.27 389.53L630.31 389.50L632.34 389.26L634.38 388.70L636.41 387.75L638.45 386.50L640.48 385.13L642.52 383.80L644.55 382.62L646.59 381.69L648.62 380.95L650.66 380.25L652.69 379.46L654.73 378.60L656.76 377.84L658.80 377.32L660.83 377.14L662.87 377.36L664.90 377.83L666.94 378.35L668.97 378.76L671.01 378.92L673.04 378.69L675.08 378.14L677.11 377.36L679.15 376.48L681.18 375.64L683.22 374.96L685.25 374.57L687.29 374.54L689.32 374.88L691.36 375.46L693.39 376.12L695.43 376.72L697.46 377.14L699.50 377.33L701.53 377.20L703.57 376.78L705.60 376.13L707.64 375.31L709.67 374.46L711.71 373.68L713.74 373.19L715.78 373.18L717.81 373.51L719.85 373.90L721.88 374.10L723.92 374.01L725.95 373.57L727.99 372.96L730.02 372.35L732.06 371.87L734.09 371.59L736.13 371.56L738.16 371.81L740.20 372.37L742.23 373.17L744.27 374.17L746.31 375.14L748.34 375.88L750.38 376.26L752.41 376.30L754.45 376.02L756.48 375.54L758.52 375.00L760.55 374.60L762.59 374.57L764.62 374.90L766.66 375.43L768.69 375.98L770.73 376.27L772.76 376.09L774.80 375.54L776.83 374.82L778.87 374.07L780.90 373.32L782.94 372.59L784.97 371.90L787.01 371.29L789.04 370.84L791.08 370.70L793.11 370.96L795.15 371.40L797.18 371.75L799.22 371.82L801.25 371.68L803.29 371.48L805.32 371.37L807.36 371.45L809.39 371.85L811.43 372.62L813.46 373.82L815.50 375.31L817.53 376.96L819.57 378.54L821.60 379.79L823.64 380.60L825.67 380.97L827.71 380.95L829.74 380.68L831.78 380.36L833.81 380.15L835.85 380.13L837.88 380.33L839.92 380.67L841.95 381.06L843.99 381.47L846.02 381.88L848.06 382.30L850.09 382.71L852.13 383.11L854.16 383.50L856.20 383.93L858.23 384.51L860.27 385.30L862.30 386.15L864.34 386.92L866.38 387.51L868.41 387.88L870.45 387.96L872.48 387.71L874.52 387.22L876.55 386.60L878.59 385.96L880.62 385.39L882.66 384.98L884.69 384.82L886.73 384.96L888.76 385.44L890.80 386.24L892.83 387.26L894.87 388.28L896.90 389.19L898.94 390.00L900.97 390.71L903.01 391.39L905.04 392.09L907.08 392.87L909.11 393.78L911.15 394.85L913.18 396.10L915.22 397.44L917.25 398.73L919.29 399.84L921.32 400.66L923.36 401.24L925.39 401.73L927.43 402.27L929.46 402.91L931.50 403.59L933.53 404.27L935.57 404.96L937.60 405.67L939.64 406.44L941.67 407.27L943.71 408.10L945.74 408.90L947.78 409.62L949.81 410.28L951.85 410.93L953.88 411.62L955.92 412.41L957.95 413.26L959.99 414.15L962.02 415.06L964.06 415.95L966.09 416.82L968.13 417.66L970.16 418.48L972.20 419.27L974.23 420.03L976.27 420.76L978.30 421.55L980.34 422.58L982.37 424.02L984.41 425.79L986.44 427.77L988.48 429.83L990.52 431.86L992.55 433.74L994.59 435.44L996.62 436.93L998.66 438.24L1000.69 439.41L1002.73 440.53L1004.76 441.63L1006.80 442.80L1008.83 444.07L1010.87 445.43L1012.90 446.80L1014.94 448.06L1016.97 449.11L1019.01 449.92L1021.04 450.47L1023.08 450.89L1025.11 451.31L1027.15 451.81L1029.18 452.37L1031.22 452.97L1033.25 453.59L1035.29 454.27L1037.32 454.99L1039.36 455.77L1041.39 456.59L1043.43 457.44L1045.46 458.31L1047.50 459.19L1049.53 460.06L1051.57 460.89L1053.60 461.65L1055.64 462.30L1057.67 462.80L1059.71 463.19L1061.74 463.49L1063.78 463.73L1065.81 463.85L1067.85 463.80L1069.88 463.52L1071.92 463.05L1073.95 462.41L1075.99 461.69L1078.02 461.05L1080.06 460.57L1082.09 460.24L1084.13 459.99L1086.16 459.74L1088.20 459.50L1090.23 459.28L1092.27 459.10L1094.30 458.89L1096.34 458.60L1098.37 458.18L1100.41 457.68L1102.44 457.20L1104.48 456.79L1106.51 456.41L1108.55 456.00L1110.59 455.52L1112.62 454.94L1114.66 454.33L1116.69 453.73L1118.73 453.18L1120.76 452.68L1122.80 452.27L1124.83 451.99L1126.87 451.95L1128.90 452.24L1130.94 452.99L1132.97 454.29L1135.01 456.05L1137.04 458.07L1139.08 460.25L1141.11 462.50L1143.15 464.76L1145.18 466.99L1147.22 469.17L1149.25 471.26L1151.29 473.18L1153.32 474.90L1155.36 476.56L1157.39 478.31L1159.43 480.22L1161.46 482.15L1163.50 483.99L1165.53 485.63L1167.57 486.97L1169.60 487.97L1171.64 488.72L1173.67 489.33L1175.71 489.85L1177.74 490.34L1179.78 490.84L1181.81 491.38L1183.85 492.02L1185.88 492.78L1187.92 493.66L1189.95 494.62L1191.99 495.63L1194.02 496.57L1196.06 497.34L1198.09 497.91L1200.13 498.33L1202.16 498.64L1204.20 498.83L1206.23 498.84L1208.27 498.68L1210.30 498.38L1212.34 497.99L1214.37 497.55L1216.41 497.14L1218.44 496.84L1220.48 496.65L1222.51 496.53L1224.55 496.42L1226.58 496.27L1228.62 496.15L1230.65 496.17L1232.69 496.41L1234.73 496.87L1236.76 497.46L1238.80 498.09L1240.83 498.71L1242.87 499.25L1244.90 499.72L1246.94 500.16L1248.97 500.63L1251.01 501.13L1253.04 501.59L1255.08 501.93L1257.11 502.13L1259.15 502.16L1261.18 502.03L1263.22 501.75L1265.25 501.35L1267.29 500.84L1269.32 500.15L1271.36 499.23L1273.39 498.12L1275.43 496.95L1277.46 495.81L1279.50 494.74L1281.53 493.82L1283.57 493.08L1285.60 492.57L1287.64 492.30L1289.67 492.23L1291.71 492.36L1293.74 492.65L1295.78 493.07L1297.81 493.56L1299.85 494.04L1301.88 494.45L1303.92 494.75L1305.95 494.94L1307.99 495.03L1310.02 495.02L1312.06 494.95L1314.09 494.79L1316.13 494.50L1318.16 494.08L1320.20 493.54L1322.23 492.93L1324.27 492.26L1326.30 491.56L1328.34 490.84L1330.37 490.10L1332.41 489.40L1334.44 488.74L1336.48 488.16L1338.51 487.65L1340.55 487.19L1342.58 486.76L1344.62 486.35L1346.65 485.95L1348.69 485.54L1350.72 485.13L1352.76 484.72L1354.79 484.32L1356.83 483.94L1358.87 483.63L1360.90 483.41L1362.94 483.33L1364.97 483.39L1367.01 483.52L1369.04 483.63L1371.08 483.73L1373.11 483.80L1375.15 483.85L1377.18 483.89L1379.22 483.90L1381.25 483.93L1383.29 483.99L1385.32 484.09L1387.36 484.24L1389.39 484.39L1391.43 484.51L1393.46 484.57L1395.50 484.54L1397.53 484.40L1399.57 484.18L1401.60 483.94L1403.64 483.68L1405.67 483.47L1407.71 483.30L1409.74 483.20L1411.78 483.16L1413.81 483.21L1415.85 483.33L1417.88 483.51L1419.92 483.73L1421.95 483.98L1423.99 484.25L1426.02 484.55L1428.06 484.91L1430.09 485.34L1432.13 485.84L1434.16 486.40L1436.20 487.01L1438.23 487.66L1440.27 488.29L1442.30 488.90L1444.34 489.42L1446.37 489.84L1448.41 490.10L1450.44 490.15L1452.48 489.97L1454.51 489.61L1456.55 489.17L1458.58 488.72L1460.62 488.30L1462.65 487.91L1464.69 487.51L1466.72 487.11L1468.76 486.70L1470.79 486.29L1472.83 485.89L1474.86 485.52L1476.90 485.17L1478.94 484.86L1480.97 484.57L1483.01 484.35L1485.04 484.22L1487.08 484.20L1489.11 484.32L1491.15 484.54L1493.18 484.79L1495.22 485.01L1497.25 485.17L1499.29 485.25L1501.32 485.30L1503.36 485.36L1505.39 485.48L1507.43 485.68L1509.46 485.95L1511.50 486.27L1513.53 486.62L1515.57 486.93L1517.60 487.14L1519.64 487.16L1521.67 487.01L1523.71 486.76L1525.74 486.47L1527.78 486.21L1529.81 485.99L1531.85 485.80L1533.88 485.64L1535.92 485.51L1537.95 485.42L1539.99 485.40L1542.02 485.47L1544.06 485.56L1546.09 485.49L1548.13 485.10L1550.16 484.44L1552.20 483.73L1554.23 483.12L1556.27 482.62L1558.30 482.25L1560.34 481.98L1562.37 481.76L1564.41 481.55L1566.44 481.32L1568.48 481.02L1570.51 480.65L1572.55 480.18L1574.58 479.62L1576.62 479.03L1578.65 478.43L1580.69 477.87L1582.72 477.36L1584.76 476.92L1586.79 476.57L1588.83 476.24L1590.86 475.89L1592.90 475.43L1594.93 474.88L1596.97 474.28L1599.00 473.72L1601.04 473.24L1603.08 472.86L1605.11 472.59L1607.15 472.46L1609.18 472.52L1611.22 472.78L1613.25 473.22L1615.29 473.78L1617.32 474.41L1619.36 475.02L1621.39 475.55L1623.43 476.01L1625.46 476.43L1627.50 476.87L1629.53 477.34L1631.57 477.86L1633.60 478.41L1635.64 479.01L1637.67 479.59L1639.71 480.14L1641.74 480.58L1643.78 480.94L1645.81 481.27L1647.85 481.62L1649.88 482.05L1651.92 482.54L1653.95 483.12L1655.99 483.76L1658.02 484.45L1660.06 485.12L1662.09 485.73L1664.13 486.24L1666.16 486.65L1668.20 486.95L1670.23 487.16L1672.27 487.32L1674.30 487.52L1676.34 487.83L1678.37 488.28L1680.41 488.82L1682.44 489.41L1684.48 489.98L1686.51 490.50L1688.55 490.98L1690.58 491.38L1692.62 491.71L1694.65 491.99L1696.69 492.25L1698.72 492.52L1700.76 492.80L1702.79 493.15L1704.83 493.56L1706.86 494.05L1708.90 494.59L1710.93 495.15L1712.97 495.71L1715.00 496.19L1717.04 496.54L1719.07 496.71L1721.11 496.77L1723.15 496.84L1725.18 497.04L1727.22 497.41L1729.25 497.91L1731.29 498.48L1733.32 499.04L1735.36 499.58L1737.39 500.06L1739.43 500.44L1741.46 500.74L1743.50 500.97L1745.53 501.14L1747.57 501.28L1749.60 501.39L1751.64 501.46L1753.67 501.50L1755.71 501.56L1757.74 501.73L1759.78 502.04L1761.81 502.39L1763.85 502.70L1765.88 502.88L1767.92 502.88L1769.95 502.83L1771.99 502.83L1774.02 503.02L1776.06 503.38L1778.09 503.80L1780.13 504.17L1782.16 504.42L1784.20 504.57L1786.23 504.62L1788.27 504.57L1790.30 504.46L1792.34 504.26L1794.37 503.98L1796.41 503.65L1798.44 503.38L1800.48 503.22L1802.51 503.26L1804.55 503.45L1806.58 503.75L1808.62 504.10L1810.65 504.44L1812.69 504.69L1814.72 504.79L1816.76 504.70L1818.79 504.49L1820.83 504.26L1822.86 504.10L1824.90 504.10L1826.93 504.22L1828.97 504.40L1831.00 504.56L1833.04 504.64L1835.07 504.61L1837.11 504.47L1839.14 504.24L1841.18 503.91L1843.21 503.54L1845.25 503.16L1847.29 502.82L1849.32 502.54L1851.36 502.36L1853.39 502.33L1855.43 502.47L1857.46 502.72L1859.50 502.99L1861.53 503.21L1863.57 503.32L1865.60 503.35L1867.64 503.39L1869.67 503.50L1871.71 503.76L1873.74 504.17L1875.78 504.67L1877.81 505.23L1879.85 505.81L1881.88 506.37L1883.92 506.86L1885.95 507.23L1887.99 507.41L1890.02 507.37L1892.06 507.20L1894.09 507.00L1896.13 506.88L1898.16 506.94L1900.20 507.14L1902.23 507.41L1904.27 507.68L1906.30 507.87L1908.34 507.94L1910.37 507.81L1912.41 507.53L1914.44 507.11L1916.48 506.62L1918.51 506.13L1920.55 505.72L1922.58 505.44L1924.62 505.32L1926.65 505.33L1928.69 505.44L1930.72 505.63L1932.76 505.83L1934.79 506.00L1936.83 506.12L1938.86 506.20L1940.90 506.25L1942.93 506.33L1944.97 506.45L1947.00 506.61L1949.04 506.82L1951.07 507.07L1953.11 507.34L1955.14 507.60L1957.18 507.77L1959.21 507.75L1961.25 507.51L1963.28 507.12L1965.32 506.71L1967.36 506.37L1969.39 506.19L1971.43 506.23L1973.46 506.44L1975.50 506.72L1977.53 506.98L1979.57 507.14L1981.60 507.18L1983.64 507.06L1985.67 506.77L1987.71 506.32L1989.74 505.76L1991.78 505.13L1993.81 504.52L1995.85 504.02L1997.88 503.64L1999.92 503.35L2001.95 503.13L2003.99 502.98L2006.02 502.83L2008.06 502.68L2010.09 502.49L2012.13 502.26L2014.16 502.03L2016.20 501.86L2018.23 501.83L2020.27 501.95L2022.30 502.19L2024.34 502.50L2026.37 502.84L2028.41 503.18L2030.44 503.49L2032.48 503.74L2034.51 503.95L2036.55 504.19L2038.58 504.57L2040.62 505.16L2042.65 505.89L2044.69 506.53L2046.72 506.95L2048.76 507.39L2050.79 508.14L2052.83 509.07L2054.86 509.90L2056.90 510.45L2058.93 510.78L2060.97 510.96L2063.00 511.08L2065.04 511.28L2067.07 511.62L2069.11 512.10L2071.14 512.71L2073.18 513.43L2075.21 514.23L2077.25 515.06L2079.28 515.87L2081.32 516.58L2083.35 517.19L2085.39 517.72L2087.43 518.19L2089.46 518.63L2091.50 519.06L2093.53 519.47L2095.57 519.85L2097.60 520.20L2099.64 520.55L2101.67 520.95L2103.71 521.41L2105.74 521.83L2107.78 522.08L2109.81 522.07L2111.85 521.91L2113.88 521.82L2115.92 521.98L2117.95 522.36L2119.99 522.85L2122.02 523.35L2124.06 523.85L2126.09 524.31L2128.13 524.71L2130.16 525.04L2132.20 525.28L2134.23 525.41L2136.27 525.44L2138.30 525.39L2140.34 525.27L2142.37 525.14L2144.41 525.00L2146.44 524.91L2148.48 524.89L2150.51 524.99L2152.55 525.17L2154.58 525.36L2156.62 525.50L2158.65 525.60L2160.69 525.72L2162.72 525.90L2164.76 526.15L2166.79 526.42L2168.83 526.63L2170.86 526.77L2172.90 526.83L2174.93 526.80L2176.97 526.69L2179.00 526.51L2181.04 526.26L2183.07 525.99L2185.11 525.72L2187.14 525.51L2189.18 525.40L2191.21 525.41L2193.25 525.51L2195.28 525.67L2197.32 525.85L2199.35 526.01L2201.39 526.11L2203.42 526.14L2205.46 526.11L2207.49 526.01L2209.53 525.90L2211.57 525.86L2213.60 526.00L2215.64 526.32L2217.67 526.74L2219.71 527.15L2221.74 527.52L2223.78 527.86L2225.81 528.20L2227.85 528.52L2229.88 528.85L2231.92 529.13" fill="none" stroke="#4D4D4D" stroke-width="2.80" stroke-linejoin="round"/>
<path d="M207.01 786.54L209.04 751.18L211.08 761.75L213.11 805.71L215.15 799.10L217.18 737.63L219.22 669.54L221.25 645.42L223.29 620.96L225.32 706.56L227.36 751.34L229.39 753.82L231.43 786.54L233.46 751.18L235.50 761.75L237.53 805.71L239.57 799.10L241.60 737.63L243.64 669.54L245.67 645.42L247.71 620.96L249.74 706.56L251.78 751.34L253.81 753.82L255.85 786.54L257.89 751.18L259.92 761.75L261.96 805.71L263.99 799.10L266.03 737.63L268.06 669.54L270.10 645.42L272.13 620.96L274.17 706.56L276.20 751.34L278.24 753.82L280.27 786.54L282.31 751.18L284.34 761.75L286.38 805.71L288.41 799.10L290.45 737.63L292.48 669.54L294.52 645.42L296.55 620.96L298.59 706.56L300.62 751.34L302.66 753.82L304.69 786.54L306.73 751.18L308.76 761.75L310.80 805.71L312.83 799.10L314.87 737.63L316.90 669.54L318.94 645.42L320.97 620.96L323.01 706.56L325.04 751.34L327.08 753.82L329.11 786.54L331.15 751.18L333.18 761.75L335.22 805.71L337.25 799.10L339.29 737.63L341.32 669.54L343.36 645.42L345.39 620.96L347.43 706.56L349.46 751.34L351.50 753.82L353.53 786.54L355.57 751.18L357.60 761.75L359.64 805.71L361.67 799.10L363.71 737.63L365.74 669.54L367.78 645.42L369.81 620.96L371.85 706.56L373.88 751.34L375.92 753.82L377.95 786.54L379.99 751.18L382.03 761.75L384.06 805.71L386.10 799.10L388.13 737.63L390.17 669.54L392.20 645.42L394.24 620.96L396.27 706.56L398.31 751.34L400.34 753.82L402.38 786.54L404.41 751.18L406.45 761.75L408.48 805.71L410.52 799.10L412.55 737.63L414.59 669.54L416.62 645.42L418.66 620.96L420.69 706.56L422.73 751.34L424.76 753.82L426.80 786.54L428.83 751.18L430.87 761.75L432.90 805.71L434.94 799.10L436.97 737.63L439.01 669.54L441.04 645.42L443.08 620.96L445.11 706.56L447.15 751.34L449.18 753.82L451.22 786.54L453.25 751.18L455.29 761.75L457.32 805.71L459.36 799.10L461.39 737.63L463.43 669.54L465.46 645.42L467.50 620.96L469.53 706.56L471.57 751.34L473.60 753.82L475.64 786.54L477.67 751.18L479.71 761.75L481.74 805.71L483.78 799.10L485.81 737.63L487.85 669.54L489.88 645.42L491.92 620.96L493.95 706.56L495.99 751.34L498.02 753.82L500.06 786.54L502.10 751.18L504.13 761.75L506.17 805.71L508.20 799.10L510.24 737.63L512.27 669.54L514.31 645.42L516.34 620.96L518.38 706.56L520.41 751.34L522.45 753.82L524.48 786.54L526.52 751.18L528.55 761.75L530.59 805.71L532.62 799.10L534.66 737.63L536.69 669.54L538.73 645.42L540.76 620.96L542.80 706.56L544.83 751.34L546.87 753.82L548.90 786.54L550.94 751.18L552.97 761.75L555.01 805.71L557.04 799.10L559.08 737.63L561.11 669.54L563.15 645.42L565.18 620.96L567.22 706.56L569.25 751.34L571.29 753.82L573.32 786.54L575.36 751.18L577.39 761.75L579.43 805.71L581.46 799.10L583.50 737.63L585.53 669.54L587.57 645.42L589.60 620.96L591.64 706.56L593.67 751.34L595.71 753.82L597.74 786.54L599.78 751.18L601.81 761.75L603.85 805.71L605.88 799.10L607.92 737.63L609.95 669.54L611.99 645.42L614.02 620.96L616.06 706.56L618.09 751.34L620.13 753.82L622.16 786.54L624.20 751.18L626.24 761.75L628.27 805.71L630.31 799.10L632.34 737.63L634.38 669.54L636.41 645.42L638.45 620.96L640.48 706.56L642.52 751.34L644.55 753.82L646.59 786.54L648.62 751.18L650.66 761.75L652.69 805.71L654.73 799.10L656.76 737.63L658.80 669.54L660.83 645.42L662.87 620.96L664.90 706.56L666.94 751.34L668.97 753.82L671.01 786.54L673.04 751.18L675.08 761.75L677.11 805.71L679.15 799.10L681.18 737.63L683.22 669.54L685.25 645.42L687.29 620.96L689.32 706.56L691.36 751.34L693.39 753.82L695.43 786.54L697.46 751.18L699.50 761.75L701.53 805.71L703.57 799.10L705.60 737.63L707.64 669.54L709.67 645.42L711.71 620.96L713.74 706.56L715.78 751.34L717.81 753.82L719.85 786.54L721.88 751.18L723.92 761.75L725.95 805.71L727.99 799.10L730.02 737.63L732.06 669.54L734.09 645.42L736.13 620.96L738.16 706.56L740.20 751.34L742.23 753.82L744.27 786.54L746.31 751.18L748.34 761.75L750.38 805.71L752.41 799.10L754.45 737.63L756.48 669.54L758.52 645.42L760.55 620.96L762.59 706.56L764.62 751.34L766.66 753.82L768.69 786.54L770.73 751.18L772.76 761.75L774.80 805.71L776.83 799.10L778.87 737.63L780.90 669.54L782.94 645.42L784.97 620.96L787.01 706.56L789.04 751.34L791.08 753.82L793.11 786.54L795.15 751.18L797.18 761.75L799.22 805.71L801.25 799.10L803.29 737.63L805.32 669.54L807.36 645.42L809.39 620.96L811.43 706.56L813.46 751.34L815.50 753.82L817.53 786.54L819.57 751.18L821.60 761.75L823.64 805.71L825.67 799.10L827.71 737.63L829.74 669.54L831.78 645.42L833.81 620.96L835.85 706.56L837.88 751.34L839.92 753.82L841.95 786.54L843.99 751.18L846.02 761.75L848.06 805.71L850.09 799.10L852.13 737.63L854.16 669.54L856.20 645.42L858.23 620.96L860.27 706.56L862.30 751.34L864.34 753.82L866.38 786.54L868.41 751.18L870.45 761.75L872.48 805.71L874.52 799.10L876.55 737.63L878.59 669.54L880.62 645.42L882.66 620.96L884.69 706.56L886.73 751.34L888.76 753.82L890.80 786.54L892.83 751.18L894.87 761.75L896.90 805.71L898.94 799.10L900.97 737.63L903.01 669.54L905.04 645.42L907.08 620.96L909.11 706.56L911.15 751.34L913.18 753.82L915.22 786.54L917.25 751.18L919.29 761.75L921.32 805.71L923.36 799.10L925.39 737.63L927.43 669.54L929.46 645.42L931.50 620.96L933.53 706.56L935.57 751.34L937.60 753.82L939.64 786.54L941.67 751.18L943.71 761.75L945.74 805.71L947.78 799.10L949.81 737.63L951.85 669.54L953.88 645.42L955.92 620.96L957.95 706.56L959.99 751.34L962.02 753.82L964.06 786.54L966.09 751.18L968.13 761.75L970.16 805.71L972.20 799.10L974.23 737.63L976.27 669.54L978.30 645.42L980.34 620.96L982.37 706.56L984.41 751.34L986.44 753.82L988.48 786.54L990.52 751.18L992.55 761.75L994.59 805.71L996.62 799.10L998.66 737.63L1000.69 669.54L1002.73 645.42L1004.76 620.96L1006.80 706.56L1008.83 751.34L1010.87 753.82L1012.90 786.54L1014.94 751.18L1016.97 761.75L1019.01 805.71L1021.04 799.10L1023.08 737.63L1025.11 669.54L1027.15 645.42L1029.18 620.96L1031.22 706.56L1033.25 751.34L1035.29 753.82L1037.32 786.54L1039.36 751.18L1041.39 761.75L1043.43 805.71L1045.46 799.10L1047.50 737.63L1049.53 669.54L1051.57 645.42L1053.60 620.96L1055.64 706.56L1057.67 751.34L1059.71 753.82L1061.74 786.54L1063.78 751.18L1065.81 761.75L1067.85 805.71L1069.88 799.10L1071.92 737.63L1073.95 669.54L1075.99 645.42L1078.02 620.96L1080.06 706.56L1082.09 751.34L1084.13 753.82L1086.16 786.54L1088.20 751.18L1090.23 761.75L1092.27 805.71L1094.30 799.10L1096.34 737.63L1098.37 669.54L1100.41 645.42L1102.44 620.96L1104.48 706.56L1106.51 751.34L1108.55 753.82L1110.59 786.54L1112.62 751.18L1114.66 761.75L1116.69 805.71L1118.73 799.10L1120.76 737.63L1122.80 669.54L1124.83 645.42L1126.87 620.96L1128.90 706.56L1130.94 751.34L1132.97 753.82L1135.01 786.54L1137.04 751.18L1139.08 761.75L1141.11 805.71L1143.15 799.10L1145.18 737.63L1147.22 669.54L1149.25 645.42L1151.29 620.96L1153.32 706.56L1155.36 751.34L1157.39 753.82L1159.43 786.54L1161.46 751.18L1163.50 761.75L1165.53 805.71L1167.57 799.10L1169.60 737.63L1171.64 669.54L1173.67 645.42L1175.71 620.96L1177.74 706.56L1179.78 751.34L1181.81 753.82L1183.85 786.54L1185.88 751.18L1187.92 761.75L1189.95 805.71L1191.99 799.10L1194.02 737.63L1196.06 669.54L1198.09 645.42L1200.13 620.96L1202.16 706.56L1204.20 751.34L1206.23 753.82L1208.27 786.54L1210.30 751.18L1212.34 761.75L1214.37 805.71L1216.41 799.10L1218.44 737.63L1220.48 669.54L1222.51 645.42L1224.55 620.96L1226.58 706.56L1228.62 751.34L1230.65 753.82L1232.69 786.54L1234.73 751.18L1236.76 761.75L1238.80 805.71L1240.83 799.10L1242.87 737.63L1244.90 669.54L1246.94 645.42L1248.97 620.96L1251.01 706.56L1253.04 751.34L1255.08 753.82L1257.11 786.54L1259.15 751.18L1261.18 761.75L1263.22 805.71L1265.25 799.10L1267.29 737.63L1269.32 669.54L1271.36 645.42L1273.39 620.96L1275.43 706.56L1277.46 751.34L1279.50 753.82L1281.53 786.54L1283.57 751.18L1285.60 761.75L1287.64 805.71L1289.67 799.10L1291.71 737.63L1293.74 669.54L1295.78 645.42L1297.81 620.96L1299.85 706.56L1301.88 751.34L1303.92 753.82L1305.95 786.54L1307.99 751.18L1310.02 761.75L1312.06 805.71L1314.09 799.10L1316.13 737.63L1318.16 669.54L1320.20 645.42L1322.23 620.96L1324.27 706.56L1326.30 751.34L1328.34 753.82L1330.37 786.54L1332.41 751.18L1334.44 761.75L1336.48 805.71L1338.51 799.10L1340.55 737.63L1342.58 669.54L1344.62 645.42L1346.65 620.96L1348.69 706.56L1350.72 751.34L1352.76 753.82L1354.79 786.54L1356.83 751.18L1358.87 761.75L1360.90 805.71L1362.94 799.10L1364.97 737.63L1367.01 669.54L1369.04 645.42L1371.08 620.96L1373.11 706.56L1375.15 751.34L1377.18 753.82L1379.22 786.54L1381.25 751.18L1383.29 761.75L1385.32 805.71L1387.36 799.10L1389.39 737.63L1391.43 669.54L1393.46 645.42L1395.50 620.96L1397.53 706.56L1399.57 751.34L1401.60 753.82L1403.64 786.54L1405.67 751.18L1407.71 761.75L1409.74 805.71L1411.78 799.10L1413.81 737.63L1415.85 669.54L1417.88 645.42L1419.92 620.96L1421.95 706.56L1423.99 751.34L1426.02 753.82L1428.06 786.54L1430.09 751.18L1432.13 761.75L1434.16 805.71L1436.20 799.10L1438.23 737.63L1440.27 669.54L1442.30 645.42L1444.34 620.96L1446.37 706.56L1448.41 751.34L1450.44 753.82L1452.48 786.54L1454.51 751.18L1456.55 761.75L1458.58 805.71L1460.62 799.10L1462.65 737.63L1464.69 669.54L1466.72 645.42L1468.76 620.96L1470.79 706.56L1472.83 751.34L1474.86 753.82L1476.90 786.54L1478.94 751.18L1480.97 761.75L1483.01 805.71L1485.04 799.10L1487.08 737.63L1489.11 669.54L1491.15 645.42L1493.18 620.96L1495.22 706.56L1497.25 751.34L1499.29 753.82L1501.32 786.54L1503.36 751.18L1505.39 761.75L1507.43 805.71L1509.46 799.10L1511.50 737.63L1513.53 669.54L1515.57 645.42L1517.60 620.96L1519.64 706.56L1521.67 751.34L1523.71 753.82L1525.74 786.54L1527.78 751.18L1529.81 761.75L1531.85 805.71L1533.88 799.10L1535.92 737.63L1537.95 669.54L1539.99 645.42L1542.02 620.96L1544.06 706.56L1546.09 751.34L1548.13 753.82L1550.16 786.54L1552.20 751.18L1554.23 761.75L1556.27 805.71L1558.30 799.10L1560.34 737.63L1562.37 669.54L1564.41 645.42L1566.44 620.96L1568.48 706.56L1570.51 751.34L1572.55 753.82L1574.58 786.54L1576.62 751.18L1578.65 761.75L1580.69 805.71L1582.72 799.10L1584.76 737.63L1586.79 669.54L1588.83 645.42L1590.86 620.96L1592.90 706.56L1594.93 751.34L1596.97 753.82L1599.00 786.54L1601.04 751.18L1603.08 761.75L1605.11 805.71L1607.15 799.10L1609.18 737.63L1611.22 669.54L1613.25 645.42L1615.29 620.96L1617.32 706.56L1619.36 751.34L1621.39 753.82L1623.43 786.54L1625.46 751.18L1627.50 761.75L1629.53 805.71L1631.57 799.10L1633.60 737.63L1635.64 669.54L1637.67 645.42L1639.71 620.96L1641.74 706.56L1643.78 751.34L1645.81 753.82L1647.85 786.54L1649.88 751.18L1651.92 761.75L1653.95 805.71L1655.99 799.10L1658.02 737.63L1660.06 669.54L1662.09 645.42L1664.13 620.96L1666.16 706.56L1668.20 751.34L1670.23 753.82L1672.27 786.54L1674.30 751.18L1676.34 761.75L1678.37 805.71L1680.41 799.10L1682.44 737.63L1684.48 669.54L1686.51 645.42L1688.55 620.96L1690.58 706.56L1692.62 751.34L1694.65 753.82L1696.69 786.54L1698.72 751.18L1700.76 761.75L1702.79 805.71L1704.83 799.10L1706.86 737.63L1708.90 669.54L1710.93 645.42L1712.97 620.96L1715.00 706.56L1717.04 751.34L1719.07 753.82L1721.11 786.54L1723.15 751.18L1725.18 761.75L1727.22 805.71L1729.25 799.10L1731.29 737.63L1733.32 669.54L1735.36 645.42L1737.39 620.96L1739.43 706.56L1741.46 751.34L1743.50 753.82L1745.53 786.54L1747.57 751.18L1749.60 761.75L1751.64 805.71L1753.67 799.10L1755.71 737.63L1757.74 669.54L1759.78 645.42L1761.81 620.96L1763.85 706.56L1765.88 751.34L1767.92 753.82L1769.95 786.54L1771.99 751.18L1774.02 761.75L1776.06 805.71L1778.09 799.10L1780.13 737.63L1782.16 669.54L1784.20 645.42L1786.23 620.96L1788.27 706.56L1790.30 751.34L1792.34 753.82L1794.37 786.54L1796.41 751.18L1798.44 761.75L1800.48 805.71L1802.51 799.10L1804.55 737.63L1806.58 669.54L1808.62 645.42L1810.65 620.96L1812.69 706.56L1814.72 751.34L1816.76 753.82L1818.79 786.54L1820.83 751.18L1822.86 761.75L1824.90 805.71L1826.93 799.10L1828.97 737.63L1831.00 669.54L1833.04 645.42L1835.07 620.96L1837.11 706.56L1839.14 751.34L1841.18 753.82L1843.21 786.54L1845.25 751.18L1847.29 761.75L1849.32 805.71L1851.36 799.10L1853.39 737.63L1855.43 669.54L1857.46 645.42L1859.50 620.96L1861.53 706.56L1863.57 751.34L1865.60 753.82L1867.64 786.54L1869.67 751.18L1871.71 761.75L1873.74 805.71L1875.78 799.10L1877.81 737.63L1879.85 669.54L1881.88 645.42L1883.92 620.96L1885.95 706.56L1887.99 751.34L1890.02 753.82L1892.06 786.54L1894.09 751.18L1896.13 761.75L1898.16 805.71L1900.20 799.10L1902.23 737.63L1904.27 669.54L1906.30 645.42L1908.34 620.96L1910.37 706.56L1912.41 751.34L1914.44 753.82L1916.48 786.54L1918.51 751.18L1920.55 761.75L1922.58 805.71L1924.62 799.10L1926.65 737.63L1928.69 669.54L1930.72 645.42L1932.76 620.96L1934.79 706.56L1936.83 751.34L1938.86 753.82L1940.90 786.54L1942.93 751.18L1944.97 761.75L1947.00 805.71L1949.04 799.10L1951.07 737.63L1953.11 669.54L1955.14 645.42L1957.18 620.96L1959.21 706.56L1961.25 751.34L1963.28 753.82L1965.32 786.54L1967.36 751.18L1969.39 761.75L1971.43 805.71L1973.46 799.10L1975.50 737.63L1977.53 669.54L1979.57 645.42L1981.60 620.96L1983.64 706.56L1985.67 751.34L1987.71 753.82L1989.74 786.54L1991.78 751.18L1993.81 761.75L1995.85 805.71L1997.88 799.10L1999.92 737.63L2001.95 669.54L2003.99 645.42L2006.02 620.96L2008.06 706.56L2010.09 751.34L2012.13 753.82L2014.16 786.54L2016.20 751.18L2018.23 761.75L2020.27 805.71L2022.30 799.10L2024.34 737.63L2026.37 669.54L2028.41 645.42L2030.44 620.96L2032.48 706.56L2034.51 751.34L2036.55 753.82L2038.58 786.54L2040.62 751.18L2042.65 761.75L2044.69 805.71L2046.72 799.10L2048.76 737.63L2050.79 669.54L2052.83 645.42L2054.86 620.96L2056.90 706.56L2058.93 751.34L2060.97 753.82L2063.00 786.54L2065.04 751.18L2067.07 761.75L2069.11 805.71L2071.14 799.10L2073.18 737.63L2075.21 669.54L2077.25 645.42L2079.28 620.96L2081.32 706.56L2083.35 751.34L2085.39 753.82L2087.43 786.54L2089.46 751.18L2091.50 761.75L2093.53 805.71L2095.57 799.10L2097.60 737.63L2099.64 669.54L2101.67 645.42L2103.71 620.96L2105.74 706.56L2107.78 751.34L2109.81 753.82L2111.85 786.54L2113.88 751.18L2115.92 761.75L2117.95 805.71L2119.99 799.10L2122.02 737.63L2124.06 669.54L2126.09 645.42L2128.13 620.96L2130.16 706.56L2132.20 751.34L2134.23 753.82L2136.27 786.54L2138.30 751.18L2140.34 761.75L2142.37 805.71L2144.41 799.10L2146.44 737.63L2148.48 669.54L2150.51 645.42L2152.55 620.96L2154.58 706.56L2156.62 751.34L2158.65 753.82L2160.69 786.54L2162.72 751.18L2164.76 761.75L2166.79 805.71L2168.83 799.10L2170.86 737.63L2172.90 669.54L2174.93 645.42L2176.97 620.96L2179.00 706.56L2181.04 751.34L2183.07 753.82L2185.11 786.54L2187.14 751.18L2189.18 761.75L2191.21 805.71L2193.25 799.10L2195.28 737.63L2197.32 669.54L2199.35 645.42L2201.39 620.96L2203.42 706.56L2205.46 751.34L2207.49 753.82L2209.53 786.54L2211.57 751.18L2213.60 761.75L2215.64 805.71L2217.67 799.10L2219.71 737.63L2221.74 669.54L2223.78 645.42L2225.81 620.96L2227.85 706.56L2229.88 751.34L2231.92 753.82" fill="none" stroke="#4D4D4D" stroke-width="2.80" stroke-linejoin="round"/>
<path d="M205.61 999.05H208.41V1005.39H205.61ZM207.64 996.68H210.44V1005.39H207.64ZM209.68 986.43H212.48V1005.39H209.68ZM211.71 988.49H214.51V1005.39H211.71ZM213.75 995.97H216.55V1005.39H213.75ZM215.78 1005.39H218.58V1015.65H215.78ZM217.82 1005.39H220.62V1022.84H217.82ZM219.85 1005.39H222.65V1028.49H219.85ZM221.89 1005.39H224.69V1068.79H221.89ZM223.92 1005.39H226.72V1052.06H223.92ZM225.96 1005.39H228.76V1013.61H225.96ZM227.99 1005.39H230.79V1012.59H227.99ZM230.03 964.90H232.83V1005.39H230.03ZM232.06 979.56H234.86V1005.39H232.06ZM234.10 999.77H236.90V1005.39H234.10ZM236.13 1002.83H238.93V1005.39H236.13ZM238.17 991.56H240.97V1005.39H238.17ZM240.20 1005.39H243.00V1010.53H240.20ZM242.24 1005.39H245.04V1019.76H242.24ZM244.27 1003.87H247.07V1005.39H244.27ZM246.31 1001.31H249.11V1005.39H246.31ZM248.34 1005.39H251.14V1005.72H248.34ZM250.38 1005.39H253.18V1011.04H250.38ZM252.41 1005.39H255.21V1023.66H252.41ZM254.45 982.65H257.25V1005.39H254.45ZM256.49 984.89H259.29V1005.39H256.49ZM258.52 994.12H261.32V1005.39H258.52ZM260.56 1000.27H263.36V1005.39H260.56ZM262.59 1005.39H265.39V1012.59H262.59ZM264.63 996.38H267.43V1005.39H264.63ZM266.66 999.77H269.46V1005.39H266.66ZM268.70 1005.39H271.50V1007.66H268.70ZM270.73 1005.39H273.53V1020.28H270.73ZM272.77 1005.39H275.57V1031.86H272.77ZM274.80 1005.39H277.60V1030.01H274.80ZM276.84 1005.39H279.64V1034.33H276.84ZM278.87 983.67H281.67V1005.39H278.87ZM280.91 974.13H283.71V1005.39H280.91ZM282.94 970.33H285.74V1005.39H282.94ZM284.98 997.20H287.78V1005.39H284.98ZM287.01 1005.39H289.81V1020.80H287.01ZM289.05 999.55H291.85V1005.39H289.05ZM291.08 998.03H293.88V1005.39H291.08ZM293.12 1005.39H295.92V1010.53H293.12ZM295.15 1005.39H297.95V1021.82H295.15ZM297.19 1005.39H299.99V1026.73H297.19ZM299.22 1005.39H302.02V1033.92H299.22ZM301.26 1005.39H304.06V1044.59H301.26ZM303.29 988.28H306.09V1005.39H303.29ZM305.33 981.30H308.13V1005.39H305.33ZM307.36 976.48H310.16V1005.39H307.36ZM309.40 989.82H312.20V1005.39H309.40ZM311.43 997.40H314.23V1005.39H311.43ZM313.47 1005.39H316.27V1013.61H313.47ZM315.50 1004.18H318.30V1005.39H315.50ZM317.54 996.18H320.34V1005.39H317.54ZM319.57 1005.39H322.37V1015.65H319.57ZM321.61 1005.39H324.41V1035.66H321.61ZM323.64 1005.39H326.44V1038.42H323.64ZM325.68 1005.39H328.48V1033.10H325.68ZM327.71 973.61H330.51V1005.39H327.71ZM329.75 973.61H332.55V1005.39H329.75ZM331.78 982.84H334.58V1005.39H331.78ZM333.82 986.12H336.62V1005.39H333.82ZM335.85 999.77H338.65V1005.39H335.85ZM337.89 1005.39H340.69V1015.65H337.89ZM339.92 999.25H342.72V1005.39H339.92ZM341.96 1000.79H344.76V1005.39H341.96ZM343.99 1005.39H346.79V1017.91H343.99ZM346.03 1005.39H348.83V1019.76H346.03ZM348.06 1005.39H350.86V1021.82H348.06ZM350.10 1005.39H352.90V1033.10H350.10ZM352.13 986.12H354.93V1005.39H352.13ZM354.17 989.51H356.97V1005.39H354.17ZM356.20 982.33H359.00V1005.39H356.20ZM358.24 988.49H361.04V1005.39H358.24ZM360.27 1005.39H363.07V1014.13H360.27ZM362.31 1005.39H365.11V1018.54H362.31ZM364.34 1003.66H367.14V1005.39H364.34ZM366.38 1003.96H369.18V1005.39H366.38ZM368.41 1005.39H371.21V1011.04H368.41ZM370.45 1005.39H373.25V1015.15H370.45ZM372.48 1005.39H375.28V1033.61H372.48ZM374.52 1005.39H377.32V1048.28H374.52ZM376.56 988.99H379.36V1005.39H376.56ZM378.59 982.13H381.39V1005.39H378.59ZM380.63 991.56H383.43V1005.39H380.63ZM382.66 993.10H385.46V1005.39H382.66ZM384.70 995.14H387.50V1005.39H384.70ZM386.73 1004.38H389.53V1005.39H386.73ZM388.77 997.71H391.57V1005.39H388.77ZM390.80 999.55H393.60V1005.39H390.80ZM392.84 1005.39H395.64V1013.09H392.84ZM394.87 1005.39H397.67V1029.51H394.87ZM396.91 1005.39H399.71V1038.22H396.91ZM398.94 1005.39H401.74V1041.31H398.94ZM400.98 990.23H403.78V1005.39H400.98ZM403.01 987.97H405.81V1005.39H403.01ZM405.05 986.43H407.85V1005.39H405.05ZM407.08 986.95H409.88V1005.39H407.08ZM409.12 1005.39H411.92V1027.97H409.12ZM411.15 982.84H413.95V1005.39H411.15ZM413.19 960.79H415.99V1005.39H413.19ZM415.22 994.84H418.02V1005.39H415.22ZM417.26 1005.39H420.06V1034.12H417.26ZM419.29 1005.39H422.09V1052.58H419.29ZM421.33 1005.39H424.13V1040.07H421.33ZM423.36 1005.39H426.16V1032.58H423.36ZM425.40 971.35H428.20V1005.39H425.40ZM427.43 971.87H430.23V1005.39H427.43ZM429.47 987.15H432.27V1005.39H429.47ZM431.50 1005.39H434.30V1017.56H431.50ZM433.54 1005.39H436.34V1043.72H433.54ZM435.57 1005.39H438.37V1039.81H435.57ZM437.61 1005.39H440.41V1034.18H437.61ZM439.64 1005.39H442.44V1019.82H439.64ZM441.68 981.30H444.48V1005.39H441.68ZM443.71 953.10H446.51V1005.39H443.71ZM445.75 980.48H448.55V1005.39H445.75ZM447.78 1004.48H450.58V1005.39H447.78ZM449.82 954.43H452.62V1005.39H449.82ZM451.85 969.00H454.65V1005.39H451.85ZM453.89 991.36H456.69V1005.39H453.89ZM455.92 1005.39H458.72V1008.33H455.92ZM457.96 1005.39H460.76V1031.92H457.96ZM459.99 1005.39H462.79V1008.33H459.99ZM462.03 996.18H464.83V1005.39H462.03ZM464.06 993.40H466.86V1005.39H464.06ZM466.10 1001.31H468.90V1005.39H466.10ZM468.13 1005.39H470.93V1012.94H468.13ZM470.17 1005.39H472.97V1027.82H470.17ZM472.20 1005.39H475.00V1038.79H472.20ZM474.24 986.64H477.04V1005.39H474.24ZM476.27 990.34H479.07V1005.39H476.27ZM478.31 1005.39H481.11V1021.97H478.31ZM480.34 1005.39H483.14V1031.40H480.34ZM482.38 1005.39H485.18V1027.51H482.38ZM484.41 994.43H487.21V1005.39H484.41ZM486.45 970.53H489.25V1005.39H486.45ZM488.48 988.69H491.28V1005.39H488.48ZM490.52 1005.39H493.32V1026.27H490.52ZM492.55 1005.39H495.35V1020.63H492.55ZM494.59 999.25H497.39V1005.39H494.59ZM496.62 1005.39H499.42V1007.00H496.62ZM498.66 978.43H501.46V1005.39H498.66ZM500.70 988.28H503.50V1005.39H500.70ZM502.73 1005.09H505.53V1005.39H502.73ZM504.77 1005.39H507.57V1016.02H504.77ZM506.80 1005.39H509.60V1017.56H506.80ZM508.84 1001.61H511.64V1005.39H508.84ZM510.87 997.92H513.67V1005.39H510.87ZM512.91 997.20H515.71V1005.39H512.91ZM514.94 997.40H517.74V1005.39H514.94ZM516.98 1005.09H519.78V1005.39H516.98ZM519.01 1001.81H521.81V1005.39H519.01ZM521.05 1005.39H523.85V1015.00H521.05ZM523.08 1005.39H525.88V1044.74H523.08ZM525.12 1005.39H527.92V1054.17H525.12ZM527.15 1005.39H529.95V1063.71H527.15ZM529.19 1005.39H531.99V1071.40H529.19ZM531.22 1005.39H534.02V1081.65H531.22ZM533.26 1005.39H536.06V1080.63H533.26ZM535.29 1005.39H538.09V1021.97H535.29ZM537.33 975.15H540.13V1005.39H537.33ZM539.36 934.64H542.16V1005.39H539.36ZM541.40 907.46H544.20V1005.39H541.40ZM543.43 898.03H546.23V1005.39H543.43ZM545.47 923.67H548.27V1005.39H545.47ZM547.50 941.61H550.30V1005.39H547.50ZM549.54 975.98H552.34V1005.39H549.54ZM551.57 997.20H554.37V1005.39H551.57ZM553.61 1005.39H556.41V1045.76H553.61ZM555.64 1005.39H558.44V1032.94H555.64ZM557.68 1005.39H560.48V1015.00H557.68ZM559.71 1005.39H562.51V1012.74H559.71ZM561.75 1005.39H564.55V1009.87H561.75ZM563.78 1005.39H566.58V1006.79H563.78ZM565.82 1000.27H568.62V1005.39H565.82ZM567.85 1005.39H570.65V1007.31H567.85ZM569.89 1005.39H572.69V1029.86H569.89ZM571.92 1003.66H574.72V1005.39H571.92ZM573.96 982.33H576.76V1005.39H573.96ZM575.99 989.30H578.79V1005.39H575.99ZM578.03 1005.39H580.83V1013.46H578.03ZM580.06 1005.39H582.86V1064.42H580.06ZM582.10 1005.39H584.90V1074.27H582.10ZM584.13 1003.16H586.93V1005.39H584.13ZM586.17 972.38H588.97V1005.39H586.17ZM588.20 975.98H591.00V1005.39H588.20ZM590.24 986.95H593.04V1005.39H590.24ZM592.27 991.86H595.07V1005.39H592.27ZM594.31 1005.09H597.11V1005.39H594.31ZM596.34 996.38H599.14V1005.39H596.34ZM598.38 1000.27H601.18V1005.39H598.38ZM600.41 1002.12H603.21V1005.39H600.41ZM602.45 1005.39H605.25V1047.61H602.45ZM604.48 1005.39H607.28V1044.22H604.48ZM606.52 1005.39H609.32V1024.02H606.52ZM608.55 981.10H611.35V1005.39H608.55ZM610.59 977.41H613.39V1005.39H610.59ZM612.62 984.89H615.42V1005.39H612.62ZM614.66 980.48H617.46V1005.39H614.66ZM616.69 993.40H619.49V1005.39H616.69ZM618.73 1005.39H621.53V1013.46H618.73ZM620.76 999.25H623.56V1005.39H620.76ZM622.80 998.03H625.60V1005.39H622.80ZM624.84 1005.39H627.64V1015.20H624.84ZM626.87 1005.39H629.67V1081.45H626.87ZM628.91 1005.39H631.71V1057.25H628.91ZM630.94 993.62H633.74V1005.39H630.94ZM632.98 990.34H635.78V1005.39H632.98ZM635.01 975.35H637.81V1005.39H635.01ZM637.05 986.23H639.85V1005.39H637.05ZM639.08 996.90H641.88V1005.39H639.08ZM641.12 1005.39H643.92V1012.43H641.12ZM643.15 1005.39H645.95V1018.58H643.15ZM645.19 1005.39H647.99V1016.54H645.19ZM647.22 1005.39H650.02V1006.79H647.22ZM649.26 1002.83H652.06V1005.39H649.26ZM651.29 1005.39H654.09V1007.61H651.29ZM653.33 991.05H656.13V1005.39H653.33ZM655.36 1004.38H658.16V1005.39H655.36ZM657.40 1004.68H660.20V1005.39H657.40ZM659.43 998.23H662.23V1005.39H659.43ZM661.47 991.36H664.27V1005.39H661.47ZM663.50 983.36H666.30V1005.39H663.50ZM665.54 1005.39H668.34V1007.61H665.54ZM667.57 1005.39H670.37V1013.76H667.57ZM669.61 1005.39H672.41V1013.91H669.61ZM671.64 1002.64H674.44V1005.39H671.64ZM673.68 1005.39H676.48V1010.13H673.68ZM675.71 1005.39H678.51V1040.89H675.71ZM677.75 1005.39H680.55V1051.45H677.75ZM679.78 1005.39H682.58V1011.65H679.78ZM681.82 974.22H684.62V1005.39H681.82ZM683.85 972.18H686.65V1005.39H683.85ZM685.89 968.59H688.69V1005.39H685.89ZM687.92 987.04H690.72V1005.39H687.92ZM689.96 998.53H692.76V1005.39H689.96ZM691.99 1003.66H694.79V1005.39H691.99ZM694.03 1005.39H696.83V1005.51H694.03ZM696.06 1003.46H698.86V1005.39H696.06ZM698.10 1005.39H700.90V1036.79H698.10ZM700.13 1005.39H702.93V1074.94H700.13ZM702.17 1005.39H704.97V1045.50H702.17ZM704.20 997.31H707.00V1005.39H704.20ZM706.24 963.46H709.04V1005.39H706.24ZM708.27 972.18H711.07V1005.39H708.27ZM710.31 975.76H713.11V1005.39H710.31ZM712.34 1005.39H715.14V1013.50H712.34ZM714.38 1004.48H717.18V1005.39H714.38ZM716.41 976.28H719.21V1005.39H716.41ZM718.45 1003.66H721.25V1005.39H718.45ZM720.48 1005.39H723.28V1009.41H720.48ZM722.52 1005.39H725.32V1037.81H722.52ZM724.55 1005.39H727.35V1045.50H724.55ZM726.59 1005.39H729.39V1040.59H726.59ZM728.62 1005.39H731.42V1007.76H728.62ZM730.66 980.39H733.46V1005.39H730.66ZM732.69 980.39H735.49V1005.39H732.69ZM734.73 969.31H737.53V1005.39H734.73ZM736.76 985.00H739.56V1005.39H736.76ZM738.80 980.59H741.60V1005.39H738.80ZM740.83 991.66H743.63V1005.39H740.83ZM742.87 1005.39H745.67V1030.33H742.87ZM744.91 1005.39H747.71V1012.69H744.91ZM746.94 1005.39H749.74V1025.51H746.94ZM748.98 1005.39H751.78V1043.46H748.98ZM751.01 1005.39H753.81V1027.04H751.01ZM753.05 1005.39H755.85V1023.76H753.05ZM755.08 1004.28H757.88V1005.39H755.08ZM757.12 979.87H759.92V1005.39H757.12ZM759.15 970.64H761.95V1005.39H759.15ZM761.19 989.30H763.99V1005.39H761.19ZM763.22 987.56H766.02V1005.39H763.22ZM765.26 992.38H768.06V1005.39H765.26ZM767.29 1005.39H770.09V1011.87H767.29ZM769.33 1004.28H772.13V1005.39H769.33ZM771.36 1005.39H774.16V1005.51H771.36ZM773.40 1005.39H776.20V1064.26H773.40ZM775.43 1005.39H778.23V1079.82H775.43ZM777.47 1005.39H780.27V1020.89H777.47ZM779.50 982.43H782.30V1005.39H779.50ZM781.54 960.38H784.34V1005.39H781.54ZM783.57 960.38H786.37V1005.39H783.57ZM785.61 973.50H788.41V1005.39H785.61ZM787.64 997.81H790.44V1005.39H787.64ZM789.68 996.79H792.48V1005.39H789.68ZM791.71 1005.39H794.51V1025.51H791.71ZM793.75 1005.39H796.55V1026.53H793.75ZM795.78 1005.39H798.58V1028.88H795.78ZM797.82 1005.39H800.62V1026.53H797.82ZM799.85 1005.39H802.65V1022.73H799.85ZM801.89 1005.39H804.69V1006.02H801.89ZM803.92 981.41H806.72V1005.39H803.92ZM805.96 989.10H808.76V1005.39H805.96ZM807.99 974.94H810.79V1005.39H807.99ZM810.03 970.44H812.83V1005.39H810.03ZM812.06 994.75H814.86V1005.39H812.06ZM814.10 1000.59H816.90V1005.39H814.10ZM816.13 1005.39H818.93V1029.60H816.13ZM818.17 1005.39H820.97V1012.69H818.17ZM820.20 1005.39H823.00V1022.43H820.20ZM822.24 1005.39H825.04V1029.60H822.24ZM824.27 1005.39H827.07V1015.76H824.27ZM826.31 1005.39H829.11V1020.89H826.31ZM828.34 1005.39H831.14V1022.63H828.34ZM830.38 1005.39H833.18V1016.28H830.38ZM832.41 963.46H835.21V1005.39H832.41ZM834.45 971.15H837.25V1005.39H834.45ZM836.48 994.95H839.28V1005.39H836.48ZM838.52 994.01H841.32V1005.39H838.52ZM840.55 1005.39H843.35V1017.82H840.55ZM842.59 1005.39H845.39V1010.13H842.59ZM844.62 1002.22H847.42V1005.39H844.62ZM846.66 1005.39H849.46V1024.47H846.66ZM848.69 1005.39H851.49V1039.55H848.69ZM850.73 1005.39H853.53V1017.61H850.73ZM852.76 996.79H855.56V1005.39H852.76ZM854.80 990.64H857.60V1005.39H854.80ZM856.83 972.48H859.63V1005.39H856.83ZM858.87 989.82H861.67V1005.39H858.87ZM860.90 998.33H863.70V1005.39H860.90ZM862.94 992.18H865.74V1005.39H862.94ZM864.98 1005.39H867.77V1020.38H864.98ZM867.01 1005.39H869.81V1015.76H867.01ZM869.05 1005.39H871.85V1015.97H869.05ZM871.08 1005.39H873.88V1029.60H871.08ZM873.12 1005.39H875.92V1047.35H873.12ZM875.15 1005.39H877.95V1044.48H875.15ZM877.19 997.81H879.99V1005.39H877.19ZM879.22 962.64H882.02V1005.39H879.22ZM881.26 952.39H884.06V1005.39H881.26ZM883.29 994.43H886.09V1005.39H883.29ZM885.33 999.36H888.13V1005.39H885.33ZM887.36 985.51H890.16V1005.39H887.36ZM889.40 1005.39H892.20V1020.89H889.40ZM891.43 1005.39H894.23V1008.07H891.43ZM893.47 1005.39H896.27V1005.51H893.47ZM895.50 1005.39H898.30V1021.10H895.50ZM897.54 1005.39H900.34V1032.38H897.54ZM899.57 1005.39H902.37V1025.51H899.57ZM901.61 1003.66H904.41V1005.39H901.61ZM903.64 981.61H906.44V1005.39H903.64ZM905.68 976.28H908.48V1005.39H905.68ZM907.71 987.04H910.51V1005.39H907.71ZM909.75 995.97H912.55V1005.39H909.75ZM911.78 1000.90H914.58V1005.39H911.78ZM913.82 1005.39H916.62V1022.12H913.82ZM915.85 1005.39H918.65V1012.48H915.85ZM917.89 1005.39H920.69V1007.05H917.89ZM919.92 1005.39H922.72V1015.97H919.92ZM921.96 1005.39H924.76V1026.53H921.96ZM923.99 1005.39H926.79V1039.35H923.99ZM926.03 1005.39H928.83V1008.59H926.03ZM928.06 977.30H930.86V1005.39H928.06ZM930.10 979.87H932.90V1005.39H930.10ZM932.13 985.00H934.93V1005.39H932.13ZM934.17 998.33H936.97V1005.39H934.17ZM936.20 995.25H939.00V1005.39H936.20ZM938.24 1005.39H941.04V1018.02H938.24ZM940.27 1005.39H943.07V1018.32H940.27ZM942.31 1005.39H945.11V1019.67H942.31ZM944.34 1005.39H947.14V1015.56H944.34ZM946.38 1005.39H949.18V1014.94H946.38ZM948.41 1005.39H951.21V1014.74H948.41ZM950.45 1001.72H953.25V1005.39H950.45ZM952.48 994.53H955.28V1005.39H952.48ZM954.52 976.59H957.32V1005.39H954.52ZM956.55 986.74H959.35V1005.39H956.55ZM958.59 1005.39H961.39V1007.76H958.59ZM960.62 1004.28H963.42V1005.39H960.62ZM962.66 1005.39H965.46V1017.61H962.66ZM964.69 1005.39H967.49V1009.41H964.69ZM966.73 1005.39H969.53V1022.12H966.73ZM968.76 1005.39H971.56V1021.91H968.76ZM970.80 1005.39H973.60V1014.54H970.80ZM972.83 994.95H975.63V1005.39H972.83ZM974.87 989.10H977.67V1005.39H974.87ZM976.90 1005.39H979.70V1005.51H976.90ZM978.94 979.35H981.74V1005.39H978.94ZM980.97 983.15H983.77V1005.39H980.97ZM983.01 992.69H985.81V1005.39H983.01ZM985.04 994.53H987.84V1005.39H985.04ZM987.08 1005.39H989.88V1028.58H987.08ZM989.12 1005.39H991.92V1021.41H989.12ZM991.15 1005.39H993.95V1014.74H991.15ZM993.19 1005.39H995.99V1026.01H993.19ZM995.22 1005.39H998.02V1014.74H995.22ZM997.26 1005.39H1000.06V1005.72H997.26ZM999.29 998.84H1002.09V1005.39H999.29ZM1001.33 997.81H1004.13V1005.39H1001.33ZM1003.36 983.76H1006.16V1005.39H1003.36ZM1005.40 1001.20H1008.20V1005.39H1005.40ZM1007.43 999.55H1010.23V1005.39H1007.43ZM1009.47 1003.66H1012.27V1005.39H1009.47ZM1011.50 1005.39H1014.30V1027.56H1011.50ZM1013.54 1005.39H1016.34V1015.56H1013.54ZM1015.57 1005.39H1018.37V1006.53H1015.57ZM1017.61 1001.61H1020.41V1005.39H1017.61ZM1019.64 1005.39H1022.44V1010.85H1019.64ZM1021.68 1005.39H1024.48V1010.63H1021.68ZM1023.71 1005.39H1026.51V1022.43H1023.71ZM1025.75 1005.39H1028.55V1006.53H1025.75ZM1027.78 994.23H1030.58V1005.39H1027.78ZM1029.82 994.95H1032.62V1005.39H1029.82ZM1031.85 989.30H1034.65V1005.39H1031.85ZM1033.89 996.79H1036.69V1005.39H1033.89ZM1035.92 1005.39H1038.72V1009.41H1035.92ZM1037.96 1005.39H1040.76V1011.87H1037.96ZM1039.99 1005.39H1042.79V1006.33H1039.99ZM1042.03 1005.39H1044.83V1026.53H1042.03ZM1044.06 1000.38H1046.86V1005.39H1044.06ZM1046.10 999.87H1048.90V1005.39H1046.10ZM1048.13 1005.39H1050.93V1005.51H1048.13ZM1050.17 1005.39H1052.97V1006.53H1050.17ZM1052.20 1000.38H1055.00V1005.39H1052.20ZM1054.24 997.10H1057.04V1005.39H1054.24ZM1056.27 998.53H1059.07V1005.39H1056.27ZM1058.31 1000.38H1061.11V1005.39H1058.31ZM1060.34 1005.39H1063.14V1026.84H1060.34ZM1062.38 1005.39H1065.18V1024.79H1062.38ZM1064.41 1005.39H1067.21V1024.17H1064.41ZM1066.45 1003.96H1069.25V1005.39H1066.45ZM1068.48 993.21H1071.28V1005.39H1068.48ZM1070.52 999.36H1073.32V1005.39H1070.52ZM1072.55 1005.39H1075.35V1005.51H1072.55ZM1074.59 1005.39H1077.39V1013.20H1074.59ZM1076.62 1005.39H1079.42V1014.94H1076.62ZM1078.66 1005.39H1081.46V1005.72H1078.66ZM1080.69 994.23H1083.49V1005.39H1080.69ZM1082.73 985.71H1085.53V1005.39H1082.73ZM1084.76 1005.00H1087.56V1005.39H1084.76ZM1086.80 1005.39H1089.60V1006.53H1086.80ZM1088.83 1005.39H1091.63V1010.63H1088.83ZM1090.87 1002.94H1093.67V1005.39H1090.87ZM1092.90 1005.39H1095.70V1013.50H1092.90ZM1094.94 1005.39H1097.74V1009.81H1094.94ZM1096.97 1003.25H1099.77V1005.39H1096.97ZM1099.01 1005.39H1101.81V1010.63H1099.01ZM1101.04 1005.39H1103.84V1017.30H1101.04ZM1103.08 1005.39H1105.88V1006.02H1103.08ZM1105.11 999.87H1107.91V1005.39H1105.11ZM1107.15 982.13H1109.95V1005.39H1107.15ZM1109.18 1005.31H1111.98V1005.39H1109.18ZM1111.22 1001.40H1114.02V1005.39H1111.22ZM1113.26 1005.39H1116.06V1007.57H1113.26ZM1115.29 1005.39H1118.09V1015.76H1115.29ZM1117.33 1005.39H1120.13V1017.61H1117.33ZM1119.36 1005.39H1122.16V1007.05H1119.36ZM1121.40 1002.44H1124.20V1005.39H1121.40ZM1123.43 1005.39H1126.23V1012.89H1123.43ZM1125.47 995.05H1128.27V1005.39H1125.47ZM1127.50 999.87H1130.30V1005.39H1127.50ZM1129.54 989.10H1132.34V1005.39H1129.54ZM1131.57 960.38H1134.37V1005.39H1131.57ZM1133.61 994.53H1136.41V1005.39H1133.61ZM1135.64 1000.38H1138.44V1005.39H1135.64ZM1137.68 1003.66H1140.48V1005.39H1137.68ZM1139.71 1005.39H1142.51V1005.51H1139.71ZM1141.75 1005.39H1144.55V1027.56H1141.75ZM1143.78 1005.39H1146.58V1021.10H1143.78ZM1145.82 1005.39H1148.62V1022.63H1145.82ZM1147.85 1005.39H1150.65V1010.63H1147.85ZM1149.89 993.21H1152.69V1005.39H1149.89ZM1151.92 991.66H1154.72V1005.39H1151.92ZM1153.96 994.23H1156.76V1005.39H1153.96ZM1155.99 999.05H1158.79V1005.39H1155.99ZM1158.03 1005.39H1160.83V1008.79H1158.03ZM1160.06 1005.39H1162.86V1007.57H1160.06ZM1162.10 1005.39H1164.90V1013.72H1162.10ZM1164.13 1005.39H1166.93V1012.17H1164.13ZM1166.17 994.53H1168.97V1005.39H1166.17ZM1168.20 1005.39H1171.00V1018.63H1168.20ZM1170.24 1005.39H1173.04V1027.36H1170.24ZM1172.27 1005.39H1175.07V1014.22H1172.27ZM1174.31 1005.39H1177.11V1012.69H1174.31ZM1176.34 1005.39H1179.14V1010.13H1176.34ZM1178.38 994.53H1181.18V1005.39H1178.38ZM1180.41 983.76H1183.21V1005.39H1180.41ZM1182.45 997.81H1185.25V1005.39H1182.45ZM1184.48 1005.39H1187.28V1008.37H1184.48ZM1186.52 997.31H1189.32V1005.39H1186.52ZM1188.55 1004.28H1191.35V1005.39H1188.55ZM1190.59 1005.39H1193.39V1006.53H1190.59ZM1192.62 1005.39H1195.42V1009.61H1192.62ZM1194.66 1005.39H1197.46V1011.87H1194.66ZM1196.69 1005.39H1199.49V1009.09H1196.69ZM1198.73 1005.39H1201.53V1019.86H1198.73ZM1200.76 1005.39H1203.56V1012.48H1200.76ZM1202.80 1003.66H1205.60V1005.39H1202.80ZM1204.83 1002.94H1207.63V1005.39H1204.83ZM1206.87 1000.38H1209.67V1005.39H1206.87ZM1208.90 1005.39H1211.70V1005.51H1208.90ZM1210.94 1005.39H1213.74V1011.15H1210.94ZM1212.97 1000.59H1215.77V1005.39H1212.97ZM1215.01 999.87H1217.81V1005.39H1215.01ZM1217.04 1005.39H1219.84V1020.69H1217.04ZM1219.08 1005.39H1221.88V1007.57H1219.08ZM1221.11 1005.20H1223.91V1005.39H1221.11ZM1223.15 1000.38H1225.95V1005.39H1223.15ZM1225.18 990.34H1227.98V1005.39H1225.18ZM1227.22 1001.92H1230.02V1005.39H1227.22ZM1229.25 1002.74H1232.05V1005.39H1229.25ZM1231.29 1005.39H1234.09V1007.76H1231.29ZM1233.33 1005.39H1236.13V1012.17H1233.33ZM1235.36 1005.39H1238.16V1010.63H1235.36ZM1237.40 994.53H1240.20V1005.39H1237.40ZM1239.43 990.43H1242.23V1005.39H1239.43ZM1241.47 1005.39H1244.27V1006.85H1241.47ZM1243.50 1004.28H1246.30V1005.39H1243.50ZM1245.54 1005.39H1248.34V1014.74H1245.54ZM1247.57 1005.39H1250.37V1016.58H1247.57ZM1249.61 1005.39H1252.41V1009.81H1249.61ZM1251.64 1005.39H1254.44V1009.81H1251.64ZM1253.68 991.97H1256.48V1005.39H1253.68ZM1255.71 1001.20H1258.51V1005.39H1255.71ZM1257.75 1005.39H1260.55V1010.94H1257.75ZM1259.78 1005.39H1262.58V1009.61H1259.78ZM1261.82 1005.39H1264.62V1005.72H1261.82ZM1263.85 1005.39H1266.65V1009.41H1263.85ZM1265.89 1005.39H1268.69V1005.51H1265.89ZM1267.92 1005.39H1270.72V1014.54H1267.92ZM1269.96 1005.39H1272.76V1019.35H1269.96ZM1271.99 1005.39H1274.79V1009.81H1271.99ZM1274.03 1005.00H1276.83V1005.39H1274.03ZM1276.06 1002.22H1278.86V1005.39H1276.06ZM1278.10 1000.38H1280.90V1005.39H1278.10ZM1280.13 1000.68H1282.93V1005.39H1280.13ZM1282.17 998.84H1284.97V1005.39H1282.17ZM1284.20 994.95H1287.00V1005.39H1284.20ZM1286.24 997.81H1289.04V1005.39H1286.24ZM1288.27 993.71H1291.07V1005.39H1288.27ZM1290.31 1000.90H1293.11V1005.39H1290.31ZM1292.34 1005.39H1295.14V1014.54H1292.34ZM1294.38 1005.39H1297.18V1006.85H1294.38ZM1296.41 1005.39H1299.21V1009.09H1296.41ZM1298.45 1005.00H1301.25V1005.39H1298.45ZM1300.48 1001.40H1303.28V1005.39H1300.48ZM1302.52 1005.39H1305.32V1010.63H1302.52ZM1304.55 1005.39H1307.35V1006.33H1304.55ZM1306.59 1005.39H1309.39V1008.07H1306.59ZM1308.62 1004.18H1311.42V1005.39H1308.62ZM1310.66 1005.39H1313.46V1013.50H1310.66ZM1312.69 1000.90H1315.49V1005.39H1312.69ZM1314.73 1005.39H1317.53V1006.33H1314.73ZM1316.76 1005.39H1319.56V1008.37H1316.76ZM1318.80 1005.39H1321.60V1005.51H1318.80ZM1320.83 1005.39H1323.63V1014.74H1320.83ZM1322.87 1005.39H1325.67V1009.61H1322.87ZM1324.90 1003.96H1327.70V1005.39H1324.90ZM1326.94 1003.46H1329.74V1005.39H1326.94ZM1328.97 998.33H1331.77V1005.39H1328.97ZM1331.01 1005.39H1333.81V1006.02H1331.01ZM1333.04 1004.48H1335.84V1005.39H1333.04ZM1335.08 1004.48H1337.88V1005.39H1335.08ZM1337.11 994.95H1339.91V1005.39H1337.11ZM1339.15 1005.39H1341.95V1010.43H1339.15ZM1341.18 1003.46H1343.98V1005.39H1341.18ZM1343.22 1002.44H1346.02V1005.39H1343.22ZM1345.25 1005.39H1348.05V1015.04H1345.25ZM1347.29 1005.31H1350.09V1005.39H1347.29ZM1349.32 1000.38H1352.12V1005.39H1349.32ZM1351.36 1005.39H1354.16V1014.22H1351.36ZM1353.39 1005.39H1356.19V1005.72H1353.39ZM1355.43 1005.39H1358.23V1006.53H1355.43ZM1357.47 1005.39H1360.27V1007.05H1357.47ZM1359.50 991.36H1362.30V1005.39H1359.50ZM1361.54 1001.61H1364.34V1005.39H1361.54ZM1363.57 1005.39H1366.37V1006.33H1363.57ZM1365.61 1000.07H1368.41V1005.39H1365.61ZM1367.64 1005.39H1370.44V1008.79H1367.64ZM1369.68 1001.92H1372.48V1005.39H1369.68ZM1371.71 1004.48H1374.51V1005.39H1371.71ZM1373.75 1005.39H1376.55V1009.61H1373.75ZM1375.78 1001.20H1378.58V1005.39H1375.78ZM1377.82 1005.39H1380.62V1011.65H1377.82ZM1379.85 1005.39H1382.65V1010.85H1379.85ZM1381.89 1005.39H1384.69V1007.57H1381.89ZM1383.92 1002.22H1386.72V1005.39H1383.92ZM1385.96 1002.64H1388.76V1005.39H1385.96ZM1387.99 1002.44H1390.79V1005.39H1387.99ZM1390.03 996.27H1392.83V1005.39H1390.03ZM1392.06 1001.20H1394.86V1005.39H1392.06ZM1394.10 1005.39H1396.90V1008.59H1394.10ZM1396.13 1005.39H1398.93V1015.26H1396.13ZM1398.17 1005.39H1400.97V1013.91H1398.17ZM1400.20 1005.39H1403.00V1005.72H1400.20ZM1402.24 1005.39H1405.04V1011.15H1402.24ZM1404.27 1005.39H1407.07V1009.41H1404.27ZM1406.31 1005.39H1409.11V1007.05H1406.31ZM1408.34 997.51H1411.14V1005.39H1408.34ZM1410.38 990.64H1413.18V1005.39H1410.38ZM1412.41 990.12H1415.21V1005.39H1412.41ZM1414.45 1001.20H1417.25V1005.39H1414.45ZM1416.48 1005.39H1419.28V1010.85H1416.48ZM1418.52 1003.46H1421.32V1005.39H1418.52ZM1420.55 1005.39H1423.35V1011.65H1420.55ZM1422.59 1005.39H1425.39V1007.76H1422.59ZM1424.62 1005.39H1427.42V1018.32H1424.62ZM1426.66 1005.39H1429.46V1013.20H1426.66ZM1428.69 1005.39H1431.49V1009.41H1428.69ZM1430.73 994.53H1433.53V1005.39H1430.73ZM1432.76 988.28H1435.56V1005.39H1432.76ZM1434.80 990.84H1437.60V1005.39H1434.80ZM1436.83 991.45H1439.63V1005.39H1436.83ZM1438.87 1005.39H1441.67V1014.54H1438.87ZM1440.90 1005.39H1443.70V1012.69H1440.90ZM1442.94 1005.39H1445.74V1018.32H1442.94ZM1444.97 1005.39H1447.77V1017.30H1444.97ZM1447.01 1005.39H1449.81V1005.51H1447.01ZM1449.04 1005.39H1451.84V1007.05H1449.04ZM1451.08 1005.39H1453.88V1012.69H1451.08ZM1453.11 1005.39H1455.91V1012.17H1453.11ZM1455.15 1002.64H1457.95V1005.39H1455.15ZM1457.18 1002.12H1459.98V1005.39H1457.18ZM1459.22 998.64H1462.02V1005.39H1459.22ZM1461.25 1005.00H1464.05V1005.39H1461.25ZM1463.29 1005.20H1466.09V1005.39H1463.29ZM1465.32 998.53H1468.12V1005.39H1465.32ZM1467.36 1005.20H1470.16V1005.39H1467.36ZM1469.39 1000.18H1472.19V1005.39H1469.39ZM1471.43 1005.39H1474.23V1011.15H1471.43ZM1473.46 1005.39H1476.26V1021.71H1473.46ZM1475.50 1005.39H1478.30V1009.81H1475.50ZM1477.54 1005.39H1480.34V1010.94H1477.54ZM1479.57 1005.39H1482.37V1007.76H1479.57ZM1481.61 987.25H1484.41V1005.39H1481.61ZM1483.64 979.56H1486.44V1005.39H1483.64ZM1485.68 1001.92H1488.48V1005.39H1485.68ZM1487.71 1005.20H1490.51V1005.39H1487.71ZM1489.75 1005.39H1492.55V1010.63H1489.75ZM1491.78 1005.39H1494.58V1007.57H1491.78ZM1493.82 1005.39H1496.62V1007.05H1493.82ZM1495.85 1005.39H1498.65V1010.43H1495.85ZM1497.89 1005.39H1500.69V1010.85H1497.89ZM1499.92 1005.39H1502.72V1010.63H1499.92ZM1501.96 1005.39H1504.76V1012.89H1501.96ZM1503.99 1005.39H1506.79V1008.59H1503.99ZM1506.03 985.00H1508.83V1005.39H1506.03ZM1508.06 984.17H1510.86V1005.39H1508.06ZM1510.10 1005.00H1512.90V1005.39H1510.10ZM1512.13 1003.25H1514.93V1005.39H1512.13ZM1514.17 1005.39H1516.97V1015.56H1514.17ZM1516.20 1001.61H1519.00V1005.39H1516.20ZM1518.24 1005.39H1521.04V1014.74H1518.24ZM1520.27 1005.39H1523.07V1027.56H1520.27ZM1522.31 1005.39H1525.11V1007.76H1522.31ZM1524.34 1005.39H1527.14V1014.74H1524.34ZM1526.38 1005.39H1529.18V1013.72H1526.38ZM1528.41 1002.94H1531.21V1005.39H1528.41ZM1530.45 982.43H1533.25V1005.39H1530.45ZM1532.48 982.74H1535.28V1005.39H1532.48ZM1534.52 983.76H1537.32V1005.39H1534.52ZM1536.55 1005.39H1539.35V1007.76H1536.55ZM1538.59 1005.39H1541.39V1030.64H1538.59ZM1540.62 1005.39H1543.42V1012.17H1540.62ZM1542.66 1005.39H1545.46V1010.63H1542.66ZM1544.69 1005.39H1547.49V1010.13H1544.69ZM1546.73 1004.28H1549.53V1005.39H1546.73ZM1548.76 1005.39H1551.56V1015.97H1548.76ZM1550.80 1005.39H1553.60V1016.28H1550.80ZM1552.83 1005.39H1555.63V1007.57H1552.83ZM1554.87 994.95H1557.67V1005.39H1554.87ZM1556.90 986.54H1559.70V1005.39H1556.90ZM1558.94 984.48H1561.74V1005.39H1558.94ZM1560.97 1005.39H1563.77V1005.51H1560.97ZM1563.01 1003.25H1565.81V1005.39H1563.01ZM1565.04 1005.39H1567.84V1005.51H1565.04ZM1567.08 1005.39H1569.88V1020.89H1567.08ZM1569.11 1005.39H1571.91V1014.74H1569.11ZM1571.15 1005.39H1573.95V1021.41H1571.15ZM1573.18 1005.39H1575.98V1016.78H1573.18ZM1575.22 1005.39H1578.02V1010.63H1575.22ZM1577.25 993.71H1580.05V1005.39H1577.25ZM1579.29 997.10H1582.09V1005.39H1579.29ZM1581.32 988.58H1584.12V1005.39H1581.32ZM1583.36 986.74H1586.16V1005.39H1583.36ZM1585.39 1005.39H1588.19V1008.59H1585.39ZM1587.43 1003.46H1590.23V1005.39H1587.43ZM1589.46 1005.39H1592.26V1007.76H1589.46ZM1591.50 1005.39H1594.30V1019.67H1591.50ZM1593.53 1005.39H1596.33V1016.78H1593.53ZM1595.57 1005.39H1598.37V1019.04H1595.57ZM1597.60 1005.39H1600.40V1012.48H1597.60ZM1599.64 1005.39H1602.44V1008.59H1599.64ZM1601.68 997.31H1604.48V1005.39H1601.68ZM1603.71 983.97H1606.51V1005.39H1603.71ZM1605.75 975.26H1608.55V1005.39H1605.75ZM1607.78 990.12H1610.58V1005.39H1607.78ZM1609.82 1005.39H1612.62V1005.51H1609.82ZM1611.85 1005.39H1614.65V1006.33H1611.85ZM1613.89 1005.39H1616.69V1017.61H1613.89ZM1615.92 1005.39H1618.72V1010.13H1615.92ZM1617.96 1005.39H1620.76V1005.51H1617.96ZM1619.99 1005.39H1622.79V1018.32H1619.99ZM1622.03 1005.39H1624.83V1016.28H1622.03ZM1624.06 1005.39H1626.86V1016.58H1624.06ZM1626.10 1005.39H1628.90V1006.33H1626.10ZM1628.13 981.10H1630.93V1005.39H1628.13ZM1630.17 970.64H1632.97V1005.39H1630.17ZM1632.20 1005.39H1635.00V1008.37H1632.20ZM1634.24 1005.39H1637.04V1007.35H1634.24ZM1636.27 1005.39H1639.07V1010.13H1636.27ZM1638.31 1005.39H1641.11V1015.56H1638.31ZM1640.34 1005.39H1643.14V1010.63H1640.34ZM1642.38 1005.39H1645.18V1017.30H1642.38ZM1644.41 1003.46H1647.21V1005.39H1644.41ZM1646.45 1005.39H1649.25V1009.61H1646.45ZM1648.48 1005.39H1651.28V1017.82H1648.48ZM1650.52 1005.39H1653.32V1007.35H1650.52ZM1652.55 977.30H1655.35V1005.39H1652.55ZM1654.59 979.35H1657.39V1005.39H1654.59ZM1656.62 989.30H1659.42V1005.39H1656.62ZM1658.66 1005.20H1661.46V1005.39H1658.66ZM1660.69 1005.39H1663.49V1034.42H1660.69ZM1662.73 1005.39H1665.53V1023.15H1662.73ZM1664.76 1005.39H1667.56V1011.65H1664.76ZM1666.80 1005.39H1669.60V1010.63H1666.80ZM1668.83 1000.38H1671.63V1005.39H1668.83ZM1670.87 1005.39H1673.67V1019.86H1670.87ZM1672.90 1005.39H1675.70V1008.37H1672.90ZM1674.94 994.53H1677.74V1005.39H1674.94ZM1676.97 981.41H1679.77V1005.39H1676.97ZM1679.01 986.84H1681.81V1005.39H1679.01ZM1681.04 989.60H1683.84V1005.39H1681.04ZM1683.08 1005.39H1685.88V1009.41H1683.08ZM1685.11 1005.39H1687.91V1022.95H1685.11ZM1687.15 1005.39H1689.95V1014.74H1687.15ZM1689.18 1005.39H1691.98V1023.45H1689.18ZM1691.22 1005.39H1694.02V1012.69H1691.22ZM1693.25 1003.96H1696.05V1005.39H1693.25ZM1695.29 1005.39H1698.09V1014.54H1695.29ZM1697.32 1005.39H1700.12V1005.51H1697.32ZM1699.36 989.30H1702.16V1005.39H1699.36ZM1701.39 990.12H1704.19V1005.39H1701.39ZM1703.43 988.28H1706.23V1005.39H1703.43ZM1705.46 992.18H1708.26V1005.39H1705.46ZM1707.50 1005.39H1710.30V1013.91H1707.50ZM1709.53 1005.39H1712.33V1012.89H1709.53ZM1711.57 1005.39H1714.37V1023.45H1711.57ZM1713.60 1005.39H1716.40V1020.38H1713.60ZM1715.64 999.36H1718.44V1005.39H1715.64ZM1717.67 1004.28H1720.47V1005.39H1717.67ZM1719.71 1005.39H1722.51V1015.26H1719.71ZM1721.75 1005.39H1724.55V1011.46H1721.75ZM1723.78 1003.46H1726.58V1005.39H1723.78ZM1725.82 999.36H1728.62V1005.39H1725.82ZM1727.85 973.72H1730.65V1005.39H1727.85ZM1729.89 985.21H1732.69V1005.39H1729.89ZM1731.92 1005.39H1734.72V1016.28H1731.92ZM1733.96 1005.39H1736.76V1008.59H1733.96ZM1735.99 1005.39H1738.79V1017.30H1735.99ZM1738.03 1005.39H1740.83V1013.72H1738.03ZM1740.06 1005.39H1742.86V1007.76H1740.06ZM1742.10 1005.39H1744.90V1018.02H1742.10ZM1744.13 1005.39H1746.93V1010.13H1744.13ZM1746.17 1005.39H1748.97V1010.63H1746.17ZM1748.20 1005.39H1751.00V1005.72H1748.20ZM1750.24 985.30H1753.04V1005.39H1750.24ZM1752.27 983.45H1755.07V1005.39H1752.27ZM1754.31 1001.72H1757.11V1005.39H1754.31ZM1756.34 1005.39H1759.14V1005.72H1756.34ZM1758.38 1005.39H1761.18V1014.74H1758.38ZM1760.41 1005.39H1763.21V1021.41H1760.41ZM1762.45 1002.64H1765.25V1005.39H1762.45ZM1764.48 1005.39H1767.28V1011.46H1764.48ZM1766.52 1005.39H1769.32V1005.72H1766.52ZM1768.55 1005.39H1771.35V1007.05H1768.55ZM1770.59 1005.39H1773.39V1012.69H1770.59ZM1772.62 1005.39H1775.42V1010.13H1772.62ZM1774.66 983.45H1777.46V1005.39H1774.66ZM1776.69 975.76H1779.49V1005.39H1776.69ZM1778.73 995.97H1781.53V1005.39H1778.73ZM1780.76 1003.96H1783.56V1005.39H1780.76ZM1782.80 1005.39H1785.60V1028.58H1782.80ZM1784.83 1005.39H1787.63V1027.86H1784.83ZM1786.87 1005.39H1789.67V1017.61H1786.87ZM1788.90 1005.39H1791.70V1017.30H1788.90ZM1790.94 996.99H1793.74V1005.39H1790.94ZM1792.97 1005.39H1795.77V1006.53H1792.97ZM1795.01 1003.66H1797.81V1005.39H1795.01ZM1797.04 1002.22H1799.84V1005.39H1797.04ZM1799.08 980.59H1801.88V1005.39H1799.08ZM1801.11 983.97H1803.91V1005.39H1801.11ZM1803.15 994.95H1805.95V1005.39H1803.15ZM1805.18 1005.39H1807.98V1008.59H1805.18ZM1807.22 1005.39H1810.02V1026.84H1807.22ZM1809.25 1005.39H1812.05V1018.02H1809.25ZM1811.29 1005.39H1814.09V1016.28H1811.29ZM1813.32 1005.39H1816.12V1011.87H1813.32ZM1815.36 994.53H1818.16V1005.39H1815.36ZM1817.39 1005.39H1820.19V1011.46H1817.39ZM1819.43 1005.39H1822.23V1009.61H1819.43ZM1821.46 1000.38H1824.26V1005.39H1821.46ZM1823.50 989.82H1826.30V1005.39H1823.50ZM1825.53 990.64H1828.33V1005.39H1825.53ZM1827.57 989.60H1830.37V1005.39H1827.57ZM1829.60 1005.39H1832.40V1010.63H1829.60ZM1831.64 1005.39H1834.44V1020.69H1831.64ZM1833.67 1005.39H1836.47V1013.72H1833.67ZM1835.71 1005.39H1838.51V1023.45H1835.71ZM1837.74 1005.39H1840.54V1016.78H1837.74ZM1839.78 1005.00H1842.58V1005.39H1839.78ZM1841.81 1001.40H1844.61V1005.39H1841.81ZM1843.85 1001.92H1846.65V1005.39H1843.85ZM1845.89 996.27H1848.69V1005.39H1845.89ZM1847.92 998.84H1850.72V1005.39H1847.92ZM1849.96 979.87H1852.76V1005.39H1849.96ZM1851.99 984.69H1854.79V1005.39H1851.99ZM1854.03 1005.39H1856.83V1023.97H1854.03ZM1856.06 1005.39H1858.86V1016.78H1856.06ZM1858.10 1005.39H1860.90V1027.36H1858.10ZM1860.13 1005.39H1862.93V1013.50H1860.13ZM1862.17 992.18H1864.97V1005.39H1862.17ZM1864.20 1005.39H1867.00V1005.72H1864.20ZM1866.24 1000.38H1869.04V1005.39H1866.24ZM1868.27 1005.39H1871.07V1013.20H1868.27ZM1870.31 1004.28H1873.11V1005.39H1870.31ZM1872.34 990.34H1875.14V1005.39H1872.34ZM1874.38 975.46H1877.18V1005.39H1874.38ZM1876.41 1001.61H1879.21V1005.39H1876.41ZM1878.45 1005.39H1881.25V1017.61H1878.45ZM1880.48 1005.39H1883.28V1010.13H1880.48ZM1882.52 1005.39H1885.32V1031.97H1882.52ZM1884.55 1005.39H1887.35V1008.59H1884.55ZM1886.59 1004.28H1889.39V1005.39H1886.59ZM1888.62 1005.39H1891.42V1016.58H1888.62ZM1890.66 1000.59H1893.46V1005.39H1890.66ZM1892.69 1005.39H1895.49V1006.33H1892.69ZM1894.73 1005.39H1897.53V1010.13H1894.73ZM1896.76 984.48H1899.56V1005.39H1896.76ZM1898.80 980.89H1901.60V1005.39H1898.80ZM1900.83 1005.20H1903.63V1005.39H1900.83ZM1902.87 1005.39H1905.67V1006.02H1902.87ZM1904.90 1005.39H1907.70V1014.74H1904.90ZM1906.94 1005.39H1909.74V1022.63H1906.94ZM1908.97 1005.39H1911.77V1006.53H1908.97ZM1911.01 1005.39H1913.81V1016.78H1911.01ZM1913.04 1005.39H1915.84V1009.09H1913.04ZM1915.08 1005.39H1917.88V1007.05H1915.08ZM1917.11 1005.39H1919.91V1006.53H1917.11ZM1919.15 1005.39H1921.95V1008.59H1919.15ZM1921.18 982.95H1923.98V1005.39H1921.18ZM1923.22 977.11H1926.02V1005.39H1923.22ZM1925.25 998.33H1928.05V1005.39H1925.25ZM1927.29 1005.39H1930.09V1005.51H1927.29ZM1929.32 1005.39H1932.12V1024.17H1929.32ZM1931.36 1005.39H1934.16V1013.72H1931.36ZM1933.39 1004.18H1936.19V1005.39H1933.39ZM1935.43 1005.39H1938.23V1022.43H1935.43ZM1937.46 1000.59H1940.26V1005.39H1937.46ZM1939.50 1005.39H1942.30V1007.57H1939.50ZM1941.53 1005.39H1944.33V1015.76H1941.53ZM1943.57 996.79H1946.37V1005.39H1943.57ZM1945.60 979.67H1948.40V1005.39H1945.60ZM1947.64 993.71H1950.44V1005.39H1947.64ZM1949.67 986.74H1952.47V1005.39H1949.67ZM1951.71 1005.39H1954.51V1014.74H1951.71ZM1953.74 1005.39H1956.54V1033.20H1953.74ZM1955.78 1005.39H1958.58V1021.41H1955.78ZM1957.81 1005.39H1960.61V1014.74H1957.81ZM1959.85 997.81H1962.65V1005.39H1959.85ZM1961.88 999.36H1964.68V1005.39H1961.88ZM1963.92 1005.39H1966.72V1014.22H1963.92ZM1965.96 1005.39H1968.76V1012.17H1965.96ZM1967.99 997.62H1970.79V1005.39H1967.99ZM1970.03 987.25H1972.83V1005.39H1970.03ZM1972.06 986.02H1974.86V1005.39H1972.06ZM1974.10 983.26H1976.90V1005.39H1974.10ZM1976.13 1005.39H1978.93V1025.19H1976.13ZM1978.17 1005.39H1980.97V1017.30H1978.17ZM1980.20 1005.39H1983.00V1016.58H1980.20ZM1982.24 1005.39H1985.04V1028.58H1982.24ZM1984.27 1005.39H1987.07V1005.72H1984.27ZM1986.31 1003.66H1989.11V1005.39H1986.31ZM1988.34 1005.39H1991.14V1008.37H1988.34ZM1990.38 1005.00H1993.18V1005.39H1990.38ZM1992.41 996.49H1995.21V1005.39H1992.41ZM1994.45 1005.00H1997.25V1005.39H1994.45ZM1996.48 985.71H1999.28V1005.39H1996.48ZM1998.52 987.04H2001.32V1005.39H1998.52ZM2000.55 1005.39H2003.35V1025.19H2000.55ZM2002.59 1005.39H2005.39V1005.72H2002.59ZM2004.62 1005.39H2007.42V1016.78H2004.62ZM2006.66 1005.39H2009.46V1010.13H2006.66ZM2008.69 997.51H2011.49V1005.39H2008.69ZM2010.73 1005.39H2013.53V1008.79H2010.73ZM2012.76 1002.44H2015.56V1005.39H2012.76ZM2014.80 1005.39H2017.60V1006.53H2014.80ZM2016.83 1003.96H2019.63V1005.39H2016.83ZM2018.87 1001.92H2021.67V1005.39H2018.87ZM2020.90 983.97H2023.70V1005.39H2020.90ZM2022.94 994.53H2025.74V1005.39H2022.94ZM2024.97 1005.39H2027.77V1012.17H2024.97ZM2027.01 1005.39H2029.81V1005.51H2027.01ZM2029.04 1005.39H2031.84V1033.71H2029.04ZM2031.08 1005.39H2033.88V1008.59H2031.08ZM2033.11 994.95H2035.91V1005.39H2033.11ZM2035.15 1005.39H2037.95V1010.63H2035.15ZM2037.18 997.51H2039.98V1005.39H2037.18ZM2039.22 1003.46H2042.02V1005.39H2039.22ZM2041.25 1005.39H2044.05V1014.74H2041.25ZM2043.29 981.41H2046.09V1005.39H2043.29ZM2045.32 987.25H2048.12V1005.39H2045.32ZM2047.36 1000.90H2050.16V1005.39H2047.36ZM2049.39 1005.39H2052.19V1006.53H2049.39ZM2051.43 1005.39H2054.23V1020.69H2051.43ZM2053.46 1005.39H2056.26V1016.78H2053.46ZM2055.50 1005.39H2058.30V1012.17H2055.50ZM2057.53 1005.39H2060.33V1027.56H2057.53ZM2059.57 995.77H2062.37V1005.39H2059.57ZM2061.60 1005.39H2064.40V1009.61H2061.60ZM2063.64 1005.00H2066.44V1005.39H2063.64ZM2065.67 1003.96H2068.47V1005.39H2065.67ZM2067.71 981.41H2070.51V1005.39H2067.71ZM2069.74 988.58H2072.54V1005.39H2069.74ZM2071.78 989.60H2074.58V1005.39H2071.78ZM2073.81 1005.39H2076.61V1005.51H2073.81ZM2075.85 1005.39H2078.65V1028.58H2075.85ZM2077.88 1005.39H2080.68V1012.69H2077.88ZM2079.92 1005.39H2082.72V1012.69H2079.92ZM2081.95 1005.39H2084.75V1017.61H2081.95ZM2083.99 999.36H2086.79V1005.39H2083.99ZM2086.03 1005.39H2088.83V1013.50H2086.03ZM2088.06 1005.39H2090.86V1010.43H2088.06ZM2090.10 997.81H2092.90V1005.39H2090.10ZM2092.13 980.89H2094.93V1005.39H2092.13ZM2094.17 995.25H2096.97V1005.39H2094.17ZM2096.20 991.15H2099.00V1005.39H2096.20ZM2098.24 1005.39H2101.04V1023.97H2098.24ZM2100.27 1005.39H2103.07V1027.86H2100.27ZM2102.31 1005.39H2105.11V1016.28H2102.31ZM2104.34 1005.39H2107.14V1015.97H2104.34ZM2106.38 995.25H2109.18V1005.39H2106.38ZM2108.41 991.86H2111.21V1005.39H2108.41ZM2110.45 1005.39H2113.25V1010.13H2110.45ZM2112.48 1005.39H2115.28V1011.15H2112.48ZM2114.52 1005.39H2117.32V1005.72H2114.52ZM2116.55 995.46H2119.35V1005.39H2116.55ZM2118.59 993.21H2121.39V1005.39H2118.59ZM2120.62 982.13H2123.42V1005.39H2120.62ZM2122.66 1005.39H2125.46V1018.32H2122.66ZM2124.69 1005.39H2127.49V1007.57H2124.69ZM2126.73 1005.39H2129.53V1019.67H2126.73ZM2128.76 1005.39H2131.56V1023.76H2128.76ZM2130.80 997.81H2133.60V1005.39H2130.80ZM2132.83 1004.28H2135.63V1005.39H2132.83ZM2134.87 1005.39H2137.67V1009.41H2134.87ZM2136.90 1005.39H2139.70V1010.85H2136.90ZM2138.94 1005.39H2141.74V1007.76H2138.94ZM2140.97 1000.59H2143.77V1005.39H2140.97ZM2143.01 983.45H2145.81V1005.39H2143.01ZM2145.04 995.77H2147.84V1005.39H2145.04ZM2147.08 1005.39H2149.88V1014.22H2147.08ZM2149.11 1005.39H2151.91V1005.51H2149.11ZM2151.15 1005.39H2153.95V1029.60H2151.15ZM2153.18 999.36H2155.98V1005.39H2153.18ZM2155.22 994.01H2158.02V1005.39H2155.22ZM2157.25 1005.39H2160.05V1010.43H2157.25ZM2159.29 1000.38H2162.09V1005.39H2159.29ZM2161.32 1005.39H2164.12V1015.76H2161.32ZM2163.36 1005.39H2166.16V1014.22H2163.36ZM2165.39 991.66H2168.19V1005.39H2165.39ZM2167.43 982.74H2170.23V1005.39H2167.43ZM2169.46 1005.39H2172.26V1005.51H2169.46ZM2171.50 1005.39H2174.30V1009.61H2171.50ZM2173.53 1005.39H2176.33V1015.76H2173.53ZM2175.57 1005.39H2178.37V1032.16H2175.57ZM2177.60 1005.39H2180.40V1006.53H2177.60ZM2179.64 1005.00H2182.44V1005.39H2179.64ZM2181.67 995.56H2184.47V1005.39H2181.67ZM2183.71 999.36H2186.51V1005.39H2183.71ZM2185.74 1005.39H2188.54V1009.09H2185.74ZM2187.78 1005.39H2190.58V1015.26H2187.78ZM2189.81 986.54H2192.61V1005.39H2189.81ZM2191.85 982.74H2194.65V1005.39H2191.85ZM2193.88 1003.46H2196.68V1005.39H2193.88ZM2195.92 1005.39H2198.72V1007.05H2195.92ZM2197.95 1005.39H2200.75V1021.41H2197.95ZM2199.99 1005.39H2202.79V1021.71H2199.99ZM2202.02 1005.39H2204.82V1006.53H2202.02ZM2204.06 1005.39H2206.86V1010.13H2204.06ZM2206.09 991.66H2208.89V1005.39H2206.09ZM2208.13 1003.25H2210.93V1005.39H2208.13ZM2210.17 1005.39H2212.97V1011.65H2210.17ZM2212.20 1005.39H2215.00V1008.59H2212.20ZM2214.24 983.97H2217.04V1005.39H2214.24ZM2216.27 991.66H2219.07V1005.39H2216.27ZM2218.31 994.75H2221.11V1005.39H2218.31ZM2220.34 1005.39H2223.14V1008.79H2220.34ZM2222.38 1005.39H2225.18V1022.73H2222.38ZM2224.41 1005.39H2227.21V1020.89H2224.41ZM2226.45 1005.39H2229.25V1009.81H2226.45ZM2228.48 1003.96H2231.28V1005.39H2228.48ZM2230.52 992.38H2233.32V1005.39H2230.52Z" fill="#4D4D4D"/>
</svg></body></html>
